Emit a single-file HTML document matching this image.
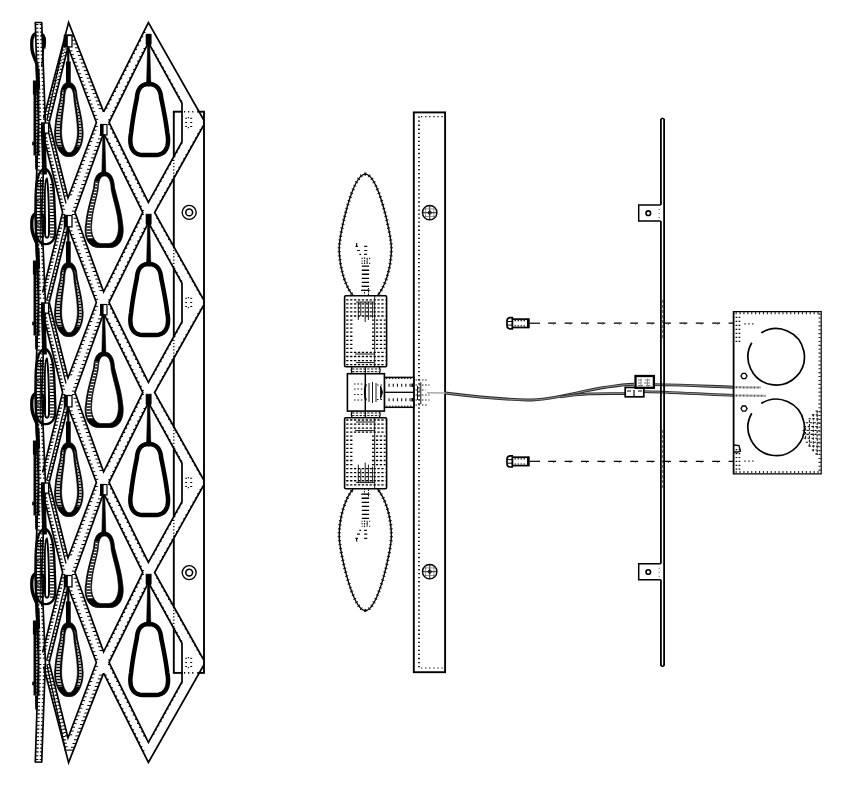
<!DOCTYPE html>
<html lang="en">
<head>
<meta charset="utf-8">
<title>Wall sconce exploded view</title>
<style>
html,body{margin:0;padding:0;background:#fff;}
body{width:853px;height:794px;overflow:hidden;font-family:"Liberation Sans",sans-serif;}
svg{display:block;}
</style>
</head>
<body>
<svg width="853" height="794" viewBox="0 0 853 794" stroke-linecap="butt" stroke-linejoin="miter">
<rect x="0" y="0" width="853" height="794" fill="#fff"/>
<g id="shade">
<line x1="204" y1="111.7" x2="204" y2="672.9" stroke="#000" stroke-width="1.9" />
<line x1="172.9" y1="111.7" x2="182.6" y2="111.7" stroke="#000" stroke-width="1.9" />
<line x1="197.2" y1="111.7" x2="204.9" y2="111.7" stroke="#000" stroke-width="1.9" />
<line x1="184" y1="111.7" x2="194" y2="111.7" stroke="#000" stroke-width="1.6" stroke-dasharray="1.2 2.9"/>
<line x1="172.9" y1="672.9" x2="182.6" y2="672.9" stroke="#000" stroke-width="1.9" />
<line x1="197.2" y1="672.9" x2="204.9" y2="672.9" stroke="#000" stroke-width="1.9" />
<line x1="184" y1="672.9" x2="194" y2="672.9" stroke="#000" stroke-width="1.6" stroke-dasharray="1.2 2.9"/>
<line x1="173.8" y1="111.7" x2="173.8" y2="156.5" stroke="#000" stroke-width="1.9" />
<line x1="173.8" y1="178.3" x2="173.8" y2="246.7" stroke="#000" stroke-width="1.9" />
<line x1="173.8" y1="268.5" x2="173.8" y2="336.5" stroke="#000" stroke-width="1.9" />
<line x1="173.8" y1="358.3" x2="173.8" y2="426.7" stroke="#000" stroke-width="1.9" />
<line x1="173.8" y1="448.5" x2="173.8" y2="516.5" stroke="#000" stroke-width="1.9" />
<line x1="173.8" y1="538.3" x2="173.8" y2="606.7" stroke="#000" stroke-width="1.9" />
<line x1="173.8" y1="628.5" x2="173.8" y2="672.9" stroke="#000" stroke-width="1.9" />
<line x1="173.8" y1="156.5" x2="173.8" y2="178.3" stroke="#000" stroke-width="1.3" stroke-dasharray="1.2 2"/>
<line x1="173.8" y1="246.7" x2="173.8" y2="268.5" stroke="#000" stroke-width="1.3" stroke-dasharray="1.2 2"/>
<line x1="173.8" y1="336.5" x2="173.8" y2="358.3" stroke="#000" stroke-width="1.3" stroke-dasharray="1.2 2"/>
<line x1="173.8" y1="426.7" x2="173.8" y2="448.5" stroke="#000" stroke-width="1.3" stroke-dasharray="1.2 2"/>
<line x1="173.8" y1="516.5" x2="173.8" y2="538.3" stroke="#000" stroke-width="1.3" stroke-dasharray="1.2 2"/>
<line x1="173.8" y1="606.7" x2="173.8" y2="628.5" stroke="#000" stroke-width="1.3" stroke-dasharray="1.2 2"/>
<circle cx="189.2" cy="212.4" r="7" fill="none" stroke="#000" stroke-width="1.4" />
<circle cx="189.2" cy="212.4" r="3.4" fill="none" stroke="#000" stroke-width="1.6" />
<circle cx="189.2" cy="572.6" r="7" fill="none" stroke="#000" stroke-width="1.4" />
<circle cx="189.2" cy="572.6" r="3.4" fill="none" stroke="#000" stroke-width="1.6" />
<path d="M185.2,118.3h1.8M190.2,118.3h2M185.2,122.5h1.8M190.2,122.5h2M185.2,126.5h1.8M190.2,126.5h2M188.4,117.1v1.2M188.4,127.1v1.2" fill="none" stroke="#000" stroke-width="1.1" />
<path d="M185.2,298.3h1.8M190.2,298.3h2M185.2,302.5h1.8M190.2,302.5h2M185.2,306.5h1.8M190.2,306.5h2M188.4,297.1v1.2M188.4,307.1v1.2" fill="none" stroke="#000" stroke-width="1.1" />
<path d="M185.2,478.3h1.8M190.2,478.3h2M185.2,482.5h1.8M190.2,482.5h2M185.2,486.5h1.8M190.2,486.5h2M188.4,477.1v1.2M188.4,487.1v1.2" fill="none" stroke="#000" stroke-width="1.1" />
<path d="M185.2,658.3h1.8M190.2,658.3h2M185.2,662.5h1.8M190.2,662.5h2M185.2,666.5h1.8M190.2,666.5h2M188.4,657.1v1.2M188.4,667.1v1.2" fill="none" stroke="#000" stroke-width="1.1" />
<polyline points="103.6,111.9 148.4,22.5 203.5,119.5" fill="none" stroke="#000" stroke-width="1.7" />
<path d="M143.39,32.5h2M141.28,36.7h2M139.18,40.9h2M137.07,45.1h2M134.97,49.3h2M132.87,53.5h2M130.76,57.7h2M128.66,61.9h2M126.55,66.1h2M124.45,70.3h2M122.34,74.5h2M120.24,78.7h2M118.13,82.9h2M116.03,87.1h2M113.92,91.3h2M111.82,95.5h2M109.71,99.7h2M107.61,103.9h2M105.5,108.1h2" fill="none" stroke="#000" stroke-width="1.15" />
<polyline points="103.6,673.1 148.4,762.5 203.5,665.5" fill="none" stroke="#000" stroke-width="1.7" />
<path d="M104.6,675.1h2M106.71,679.3h2M108.81,683.5h2M110.92,687.7h2M113.02,691.9h2M115.13,696.1h2M117.23,700.3h2M119.34,704.5h2M121.44,708.7h2M123.54,712.9h2M125.65,717.1h2M127.75,721.3h2M129.86,725.5h2M131.96,729.7h2M134.07,733.9h2M136.17,738.1h2M138.28,742.3h2M140.38,746.5h2M142.49,750.7h2" fill="none" stroke="#000" stroke-width="1.15" />
<polygon points="148.4,42.5 182,103.3 182,141.7 148.4,202.5 109,122.5" fill="none" stroke="#000" stroke-width="1.7" />
<path d="M145.44,48.5h-2M143.38,52.7h-2M141.31,56.9h-2M139.24,61.1h-2M137.17,65.3h-2M135.1,69.5h-2M133.03,73.7h-2M130.97,77.9h-2M128.9,82.1h-2M126.83,86.3h-2M124.76,90.5h-2M122.69,94.7h-2M120.62,98.9h-2M118.55,103.1h-2M116.49,107.3h-2M114.42,111.5h-2M112.35,115.7h-2M110.28,119.9h-2" fill="none" stroke="#000" stroke-width="1.15" />
<path d="M152.82,50.5h1.6M155.14,54.7h1.6M157.46,58.9h1.6M159.78,63.1h1.6M162.11,67.3h1.6M164.43,71.5h1.6M166.75,75.7h1.6M169.07,79.9h1.6M171.39,84.1h1.6M173.71,88.3h1.6M176.03,92.5h1.6M178.35,96.7h1.6M180.67,100.9h1.6" fill="none" stroke="#000" stroke-width="1.0" />
<path d="M109.98,124.5h-2M112.05,128.7h-2M114.12,132.9h-2M116.19,137.1h-2M118.26,141.3h-2M120.33,145.5h-2M122.4,149.7h-2M124.46,153.9h-2M126.53,158.1h-2M128.6,162.3h-2M130.67,166.5h-2M132.74,170.7h-2M134.81,174.9h-2M136.88,179.1h-2M138.94,183.3h-2M141.01,187.5h-2M143.08,191.7h-2M145.15,195.9h-2" fill="none" stroke="#000" stroke-width="1.15" />
<path d="M180.89,143.7h1.6M178.57,147.9h1.6M176.25,152.1h1.6M173.93,156.3h1.6M171.61,160.5h1.6M169.29,164.7h1.6M166.97,168.9h1.6M164.65,173.1h1.6M162.33,177.3h1.6M160.01,181.5h1.6M157.68,185.7h1.6M155.36,189.9h1.6M153.04,194.1h1.6" fill="none" stroke="#000" stroke-width="1.0" />
<polygon points="148.4,222.5 182,283.3 182,321.7 148.4,382.5 109,302.5" fill="none" stroke="#000" stroke-width="1.7" />
<path d="M145.44,228.5h-2M143.38,232.7h-2M141.31,236.9h-2M139.24,241.1h-2M137.17,245.3h-2M135.1,249.5h-2M133.03,253.7h-2M130.97,257.9h-2M128.9,262.1h-2M126.83,266.3h-2M124.76,270.5h-2M122.69,274.7h-2M120.62,278.9h-2M118.55,283.1h-2M116.49,287.3h-2M114.42,291.5h-2M112.35,295.7h-2M110.28,299.9h-2" fill="none" stroke="#000" stroke-width="1.15" />
<path d="M152.82,230.5h1.6M155.14,234.7h1.6M157.46,238.9h1.6M159.78,243.1h1.6M162.11,247.3h1.6M164.43,251.5h1.6M166.75,255.7h1.6M169.07,259.9h1.6M171.39,264.1h1.6M173.71,268.3h1.6M176.03,272.5h1.6M178.35,276.7h1.6M180.67,280.9h1.6" fill="none" stroke="#000" stroke-width="1.0" />
<path d="M109.98,304.5h-2M112.05,308.7h-2M114.12,312.9h-2M116.19,317.1h-2M118.26,321.3h-2M120.33,325.5h-2M122.4,329.7h-2M124.46,333.9h-2M126.53,338.1h-2M128.6,342.3h-2M130.67,346.5h-2M132.74,350.7h-2M134.81,354.9h-2M136.88,359.1h-2M138.94,363.3h-2M141.01,367.5h-2M143.08,371.7h-2M145.15,375.9h-2" fill="none" stroke="#000" stroke-width="1.15" />
<path d="M180.89,323.7h1.6M178.57,327.9h1.6M176.25,332.1h1.6M173.93,336.3h1.6M171.61,340.5h1.6M169.29,344.7h1.6M166.97,348.9h1.6M164.65,353.1h1.6M162.33,357.3h1.6M160.01,361.5h1.6M157.68,365.7h1.6M155.36,369.9h1.6M153.04,374.1h1.6" fill="none" stroke="#000" stroke-width="1.0" />
<polygon points="148.4,402.5 182,463.3 182,501.7 148.4,562.5 109,482.5" fill="none" stroke="#000" stroke-width="1.7" />
<path d="M145.44,408.5h-2M143.38,412.7h-2M141.31,416.9h-2M139.24,421.1h-2M137.17,425.3h-2M135.1,429.5h-2M133.03,433.7h-2M130.97,437.9h-2M128.9,442.1h-2M126.83,446.3h-2M124.76,450.5h-2M122.69,454.7h-2M120.62,458.9h-2M118.55,463.1h-2M116.49,467.3h-2M114.42,471.5h-2M112.35,475.7h-2M110.28,479.9h-2" fill="none" stroke="#000" stroke-width="1.15" />
<path d="M152.82,410.5h1.6M155.14,414.7h1.6M157.46,418.9h1.6M159.78,423.1h1.6M162.11,427.3h1.6M164.43,431.5h1.6M166.75,435.7h1.6M169.07,439.9h1.6M171.39,444.1h1.6M173.71,448.3h1.6M176.03,452.5h1.6M178.35,456.7h1.6M180.67,460.9h1.6" fill="none" stroke="#000" stroke-width="1.0" />
<path d="M109.98,484.5h-2M112.05,488.7h-2M114.12,492.9h-2M116.19,497.1h-2M118.26,501.3h-2M120.33,505.5h-2M122.4,509.7h-2M124.46,513.9h-2M126.53,518.1h-2M128.6,522.3h-2M130.67,526.5h-2M132.74,530.7h-2M134.81,534.9h-2M136.88,539.1h-2M138.94,543.3h-2M141.01,547.5h-2M143.08,551.7h-2M145.15,555.9h-2" fill="none" stroke="#000" stroke-width="1.15" />
<path d="M180.89,503.7h1.6M178.57,507.9h1.6M176.25,512.1h1.6M173.93,516.3h1.6M171.61,520.5h1.6M169.29,524.7h1.6M166.97,528.9h1.6M164.65,533.1h1.6M162.33,537.3h1.6M160.01,541.5h1.6M157.68,545.7h1.6M155.36,549.9h1.6M153.04,554.1h1.6" fill="none" stroke="#000" stroke-width="1.0" />
<polygon points="148.4,582.5 182,643.3 182,681.7 148.4,742.5 109,662.5" fill="none" stroke="#000" stroke-width="1.7" />
<path d="M145.44,588.5h-2M143.38,592.7h-2M141.31,596.9h-2M139.24,601.1h-2M137.17,605.3h-2M135.1,609.5h-2M133.03,613.7h-2M130.97,617.9h-2M128.9,622.1h-2M126.83,626.3h-2M124.76,630.5h-2M122.69,634.7h-2M120.62,638.9h-2M118.55,643.1h-2M116.49,647.3h-2M114.42,651.5h-2M112.35,655.7h-2M110.28,659.9h-2" fill="none" stroke="#000" stroke-width="1.15" />
<path d="M152.82,590.5h1.6M155.14,594.7h1.6M157.46,598.9h1.6M159.78,603.1h1.6M162.11,607.3h1.6M164.43,611.5h1.6M166.75,615.7h1.6M169.07,619.9h1.6M171.39,624.1h1.6M173.71,628.3h1.6M176.03,632.5h1.6M178.35,636.7h1.6M180.67,640.9h1.6" fill="none" stroke="#000" stroke-width="1.0" />
<path d="M109.98,664.5h-2M112.05,668.7h-2M114.12,672.9h-2M116.19,677.1h-2M118.26,681.3h-2M120.33,685.5h-2M122.4,689.7h-2M124.46,693.9h-2M126.53,698.1h-2M128.6,702.3h-2M130.67,706.5h-2M132.74,710.7h-2M134.81,714.9h-2M136.88,719.1h-2M138.94,723.3h-2M141.01,727.5h-2M143.08,731.7h-2M145.15,735.9h-2" fill="none" stroke="#000" stroke-width="1.15" />
<path d="M180.89,683.7h1.6M178.57,687.9h1.6M176.25,692.1h1.6M173.93,696.3h1.6M171.61,700.5h1.6M169.29,704.7h1.6M166.97,708.9h1.6M164.65,713.1h1.6M162.33,717.3h1.6M160.01,721.5h1.6M157.68,725.7h1.6M155.36,729.9h1.6M153.04,734.1h1.6" fill="none" stroke="#000" stroke-width="1.0" />
<polyline points="203.5,125.5 154.6,212.5 203.5,299.5" fill="none" stroke="#000" stroke-width="1.7" />
<path d="M201.25,129.5h-1.6M198.89,133.7h-1.6M196.53,137.9h-1.6M194.17,142.1h-1.6M191.81,146.3h-1.6M189.45,150.5h-1.6M187.09,154.7h-1.6M184.73,158.9h-1.6M182.37,163.1h-1.6M180.01,167.3h-1.6M177.64,171.5h-1.6M175.28,175.7h-1.6M172.92,179.9h-1.6M170.56,184.1h-1.6M168.2,188.3h-1.6M165.84,192.5h-1.6M163.48,196.7h-1.6M161.12,200.9h-1.6M158.76,205.1h-1.6" fill="none" stroke="#000" stroke-width="1.0" />
<path d="M157.97,218.5h-1.6M160.33,222.7h-1.6M162.69,226.9h-1.6M165.05,231.1h-1.6M167.42,235.3h-1.6M169.78,239.5h-1.6M172.14,243.7h-1.6M174.5,247.9h-1.6M176.86,252.1h-1.6M179.22,256.3h-1.6M181.58,260.5h-1.6M183.94,264.7h-1.6M186.3,268.9h-1.6M188.66,273.1h-1.6M191.02,277.3h-1.6M193.38,281.5h-1.6M195.74,285.7h-1.6M198.1,289.9h-1.6M200.46,294.1h-1.6" fill="none" stroke="#000" stroke-width="1.0" />
<polyline points="203.5,305.5 154.6,392.5 203.5,479.5" fill="none" stroke="#000" stroke-width="1.7" />
<path d="M201.25,309.5h-1.6M198.89,313.7h-1.6M196.53,317.9h-1.6M194.17,322.1h-1.6M191.81,326.3h-1.6M189.45,330.5h-1.6M187.09,334.7h-1.6M184.73,338.9h-1.6M182.37,343.1h-1.6M180.01,347.3h-1.6M177.64,351.5h-1.6M175.28,355.7h-1.6M172.92,359.9h-1.6M170.56,364.1h-1.6M168.2,368.3h-1.6M165.84,372.5h-1.6M163.48,376.7h-1.6M161.12,380.9h-1.6M158.76,385.1h-1.6" fill="none" stroke="#000" stroke-width="1.0" />
<path d="M157.97,398.5h-1.6M160.33,402.7h-1.6M162.69,406.9h-1.6M165.05,411.1h-1.6M167.42,415.3h-1.6M169.78,419.5h-1.6M172.14,423.7h-1.6M174.5,427.9h-1.6M176.86,432.1h-1.6M179.22,436.3h-1.6M181.58,440.5h-1.6M183.94,444.7h-1.6M186.3,448.9h-1.6M188.66,453.1h-1.6M191.02,457.3h-1.6M193.38,461.5h-1.6M195.74,465.7h-1.6M198.1,469.9h-1.6M200.46,474.1h-1.6" fill="none" stroke="#000" stroke-width="1.0" />
<polyline points="203.5,485.5 154.6,572.5 203.5,659.5" fill="none" stroke="#000" stroke-width="1.7" />
<path d="M201.25,489.5h-1.6M198.89,493.7h-1.6M196.53,497.9h-1.6M194.17,502.1h-1.6M191.81,506.3h-1.6M189.45,510.5h-1.6M187.09,514.7h-1.6M184.73,518.9h-1.6M182.37,523.1h-1.6M180.01,527.3h-1.6M177.64,531.5h-1.6M175.28,535.7h-1.6M172.92,539.9h-1.6M170.56,544.1h-1.6M168.2,548.3h-1.6M165.84,552.5h-1.6M163.48,556.7h-1.6M161.12,560.9h-1.6M158.76,565.1h-1.6" fill="none" stroke="#000" stroke-width="1.0" />
<path d="M157.97,578.5h-1.6M160.33,582.7h-1.6M162.69,586.9h-1.6M165.05,591.1h-1.6M167.42,595.3h-1.6M169.78,599.5h-1.6M172.14,603.7h-1.6M174.5,607.9h-1.6M176.86,612.1h-1.6M179.22,616.3h-1.6M181.58,620.5h-1.6M183.94,624.7h-1.6M186.3,628.9h-1.6M188.66,633.1h-1.6M191.02,637.3h-1.6M193.38,641.5h-1.6M195.74,645.7h-1.6M198.1,649.9h-1.6M200.46,654.1h-1.6" fill="none" stroke="#000" stroke-width="1.0" />
<polygon points="103.6,133.1 142.8,212.5 103.6,291.9 75,212.5" fill="none" stroke="#000" stroke-width="1.7" />
<path d="M106.56,139.1h2M108.64,143.3h2M110.71,147.5h2M112.78,151.7h2M114.86,155.9h2M116.93,160.1h2M119,164.3h2M121.08,168.5h2M123.15,172.7h2M125.22,176.9h2M127.3,181.1h2M129.37,185.3h2M131.44,189.5h2M133.52,193.7h2M135.59,197.9h2M137.67,202.1h2M139.74,206.3h2M141.81,210.5h2" fill="none" stroke="#000" stroke-width="1.15" />
<path d="M141.81,214.5h2M139.74,218.7h2M137.67,222.9h2M135.59,227.1h2M133.52,231.3h2M131.44,235.5h2M129.37,239.7h2M127.3,243.9h2M125.22,248.1h2M123.15,252.3h2M121.08,256.5h2M119,260.7h2M116.93,264.9h2M114.86,269.1h2M112.78,273.3h2M110.71,277.5h2M108.64,281.7h2M106.56,285.9h2" fill="none" stroke="#000" stroke-width="1.15" />
<path d="M102.88,135.1h-3.6M101.51,138.9h-3.6M100.14,142.7h-3.6M98.77,146.5h-3.6M97.4,150.3h-3.6M96.04,154.1h-3.6M94.67,157.9h-3.6M93.3,161.7h-3.6M91.93,165.5h-3.6M90.56,169.3h-3.6M89.19,173.1h-3.6M87.82,176.9h-3.6M86.45,180.7h-3.6M85.09,184.5h-3.6M83.72,188.3h-3.6M82.35,192.1h-3.6M80.98,195.9h-3.6M79.61,199.7h-3.6M78.24,203.5h-3.6M76.87,207.3h-3.6M75.5,211.1h-3.6" fill="none" stroke="#000" stroke-width="1.0" />
<path d="M75.72,214.5h-3.6M77.09,218.3h-3.6M78.46,222.1h-3.6M79.83,225.9h-3.6M81.2,229.7h-3.6M82.56,233.5h-3.6M83.93,237.3h-3.6M85.3,241.1h-3.6M86.67,244.9h-3.6M88.04,248.7h-3.6M89.41,252.5h-3.6M90.78,256.3h-3.6M92.15,260.1h-3.6M93.51,263.9h-3.6M94.88,267.7h-3.6M96.25,271.5h-3.6M97.62,275.3h-3.6M98.99,279.1h-3.6M100.36,282.9h-3.6M101.73,286.7h-3.6M103.1,290.5h-3.6" fill="none" stroke="#000" stroke-width="1.0" />
<polygon points="103.6,313.1 142.8,392.5 103.6,471.9 75,392.5" fill="none" stroke="#000" stroke-width="1.7" />
<path d="M106.56,319.1h2M108.64,323.3h2M110.71,327.5h2M112.78,331.7h2M114.86,335.9h2M116.93,340.1h2M119,344.3h2M121.08,348.5h2M123.15,352.7h2M125.22,356.9h2M127.3,361.1h2M129.37,365.3h2M131.44,369.5h2M133.52,373.7h2M135.59,377.9h2M137.67,382.1h2M139.74,386.3h2M141.81,390.5h2" fill="none" stroke="#000" stroke-width="1.15" />
<path d="M141.81,394.5h2M139.74,398.7h2M137.67,402.9h2M135.59,407.1h2M133.52,411.3h2M131.44,415.5h2M129.37,419.7h2M127.3,423.9h2M125.22,428.1h2M123.15,432.3h2M121.08,436.5h2M119,440.7h2M116.93,444.9h2M114.86,449.1h2M112.78,453.3h2M110.71,457.5h2M108.64,461.7h2M106.56,465.9h2" fill="none" stroke="#000" stroke-width="1.15" />
<path d="M102.88,315.1h-3.6M101.51,318.9h-3.6M100.14,322.7h-3.6M98.77,326.5h-3.6M97.4,330.3h-3.6M96.04,334.1h-3.6M94.67,337.9h-3.6M93.3,341.7h-3.6M91.93,345.5h-3.6M90.56,349.3h-3.6M89.19,353.1h-3.6M87.82,356.9h-3.6M86.45,360.7h-3.6M85.09,364.5h-3.6M83.72,368.3h-3.6M82.35,372.1h-3.6M80.98,375.9h-3.6M79.61,379.7h-3.6M78.24,383.5h-3.6M76.87,387.3h-3.6M75.5,391.1h-3.6" fill="none" stroke="#000" stroke-width="1.0" />
<path d="M75.72,394.5h-3.6M77.09,398.3h-3.6M78.46,402.1h-3.6M79.83,405.9h-3.6M81.2,409.7h-3.6M82.56,413.5h-3.6M83.93,417.3h-3.6M85.3,421.1h-3.6M86.67,424.9h-3.6M88.04,428.7h-3.6M89.41,432.5h-3.6M90.78,436.3h-3.6M92.15,440.1h-3.6M93.51,443.9h-3.6M94.88,447.7h-3.6M96.25,451.5h-3.6M97.62,455.3h-3.6M98.99,459.1h-3.6M100.36,462.9h-3.6M101.73,466.7h-3.6M103.1,470.5h-3.6" fill="none" stroke="#000" stroke-width="1.0" />
<polygon points="103.6,493.1 142.8,572.5 103.6,651.9 75,572.5" fill="none" stroke="#000" stroke-width="1.7" />
<path d="M106.56,499.1h2M108.64,503.3h2M110.71,507.5h2M112.78,511.7h2M114.86,515.9h2M116.93,520.1h2M119,524.3h2M121.08,528.5h2M123.15,532.7h2M125.22,536.9h2M127.3,541.1h2M129.37,545.3h2M131.44,549.5h2M133.52,553.7h2M135.59,557.9h2M137.67,562.1h2M139.74,566.3h2M141.81,570.5h2" fill="none" stroke="#000" stroke-width="1.15" />
<path d="M141.81,574.5h2M139.74,578.7h2M137.67,582.9h2M135.59,587.1h2M133.52,591.3h2M131.44,595.5h2M129.37,599.7h2M127.3,603.9h2M125.22,608.1h2M123.15,612.3h2M121.08,616.5h2M119,620.7h2M116.93,624.9h2M114.86,629.1h2M112.78,633.3h2M110.71,637.5h2M108.64,641.7h2M106.56,645.9h2" fill="none" stroke="#000" stroke-width="1.15" />
<path d="M102.88,495.1h-3.6M101.51,498.9h-3.6M100.14,502.7h-3.6M98.77,506.5h-3.6M97.4,510.3h-3.6M96.04,514.1h-3.6M94.67,517.9h-3.6M93.3,521.7h-3.6M91.93,525.5h-3.6M90.56,529.3h-3.6M89.19,533.1h-3.6M87.82,536.9h-3.6M86.45,540.7h-3.6M85.09,544.5h-3.6M83.72,548.3h-3.6M82.35,552.1h-3.6M80.98,555.9h-3.6M79.61,559.7h-3.6M78.24,563.5h-3.6M76.87,567.3h-3.6M75.5,571.1h-3.6" fill="none" stroke="#000" stroke-width="1.0" />
<path d="M75.72,574.5h-3.6M77.09,578.3h-3.6M78.46,582.1h-3.6M79.83,585.9h-3.6M81.2,589.7h-3.6M82.56,593.5h-3.6M83.93,597.3h-3.6M85.3,601.1h-3.6M86.67,604.9h-3.6M88.04,608.7h-3.6M89.41,612.5h-3.6M90.78,616.3h-3.6M92.15,620.1h-3.6M93.51,623.9h-3.6M94.88,627.7h-3.6M96.25,631.5h-3.6M97.62,635.3h-3.6M98.99,639.1h-3.6M100.36,642.9h-3.6M101.73,646.7h-3.6M103.1,650.5h-3.6" fill="none" stroke="#000" stroke-width="1.0" />
<polyline points="103.6,111.9 68.6,22.4 43.6,118.5" fill="none" stroke="#000" stroke-width="1.7" />
<path d="M64.96,36.4h3.2M64.07,39.8h3.2M63.19,43.2h3.2M62.3,46.6h3.2M61.42,50h3.2M60.54,53.4h3.2M59.65,56.8h3.2M58.77,60.2h3.2M57.88,63.6h3.2M57,67h3.2M56.11,70.4h3.2M55.23,73.8h3.2M54.34,77.2h3.2M53.46,80.6h3.2M52.58,84h3.2M51.69,87.4h3.2M50.81,90.8h3.2M49.92,94.2h3.2M49.04,97.6h3.2M48.15,101h3.2M47.27,104.4h3.2M46.38,107.8h3.2M45.5,111.2h3.2M44.61,114.6h3.2" fill="none" stroke="#000" stroke-width="1.1" />
<path d="M74.07,36.4h-3.6M75.56,40.2h-3.6M77.05,44h-3.6M78.53,47.8h-3.6M80.02,51.6h-3.6M81.51,55.4h-3.6M82.99,59.2h-3.6M84.48,63h-3.6M85.96,66.8h-3.6M87.45,70.6h-3.6M88.94,74.4h-3.6M90.42,78.2h-3.6M91.91,82h-3.6M93.39,85.8h-3.6M94.88,89.6h-3.6M96.37,93.4h-3.6M97.85,97.2h-3.6M99.34,101h-3.6M100.82,104.8h-3.6M102.31,108.6h-3.6" fill="none" stroke="#000" stroke-width="1.0" />
<line x1="65.2" y1="36.4" x2="46.8" y2="120.5" stroke="#000" stroke-width="1.3" />
<line x1="64.4" y1="34.9" x2="73.2" y2="34.9" stroke="#000" stroke-width="1.1" />
<polyline points="103.6,673.1 68.6,762.6 43.6,666.5" fill="none" stroke="#000" stroke-width="1.7" />
<path d="M44.12,668.5h3.2M45,671.9h3.2M45.89,675.3h3.2M46.77,678.7h3.2M47.66,682.1h3.2M48.54,685.5h3.2M49.43,688.9h3.2M50.31,692.3h3.2M51.2,695.7h3.2M52.08,699.1h3.2M52.97,702.5h3.2M53.85,705.9h3.2M54.73,709.3h3.2M55.62,712.7h3.2M56.5,716.1h3.2M57.39,719.5h3.2M58.27,722.9h3.2M59.16,726.3h3.2M60.04,729.7h3.2M60.93,733.1h3.2M61.81,736.5h3.2M62.69,739.9h3.2M63.58,743.3h3.2M64.46,746.7h3.2" fill="none" stroke="#000" stroke-width="1.1" />
<path d="M102.82,675.1h-3.6M101.33,678.9h-3.6M99.85,682.7h-3.6M98.36,686.5h-3.6M96.87,690.3h-3.6M95.39,694.1h-3.6M93.9,697.9h-3.6M92.42,701.7h-3.6M90.93,705.5h-3.6M89.44,709.3h-3.6M87.96,713.1h-3.6M86.47,716.9h-3.6M84.99,720.7h-3.6M83.5,724.5h-3.6M82.01,728.3h-3.6M80.53,732.1h-3.6M79.04,735.9h-3.6M77.56,739.7h-3.6M76.07,743.5h-3.6M74.58,747.3h-3.6" fill="none" stroke="#000" stroke-width="1.0" />
<line x1="65.2" y1="748.6" x2="46.8" y2="664.5" stroke="#000" stroke-width="1.3" />
<line x1="64.4" y1="750.1" x2="73.2" y2="750.1" stroke="#000" stroke-width="1.1" />
<polygon points="68,47 96.4,122.5 68,198 49.2,122.5" fill="none" stroke="#000" stroke-width="1.7" />
<path d="M69.47,50.9h3M70.9,54.7h3M72.33,58.5h3M73.76,62.3h3M75.18,66.1h3M76.61,69.9h3M78.04,73.7h3M79.47,77.5h3M80.9,81.3h3M82.33,85.1h3M83.76,88.9h3M85.19,92.7h3M86.62,96.5h3M88.05,100.3h3M89.48,104.1h3M90.91,107.9h3M92.34,111.7h3M93.77,115.5h3M95.2,119.3h3" fill="none" stroke="#000" stroke-width="1.0" />
<path d="M94.93,126.4h3M93.5,130.2h3M92.07,134h3M90.64,137.8h3M89.22,141.6h3M87.79,145.4h3M86.36,149.2h3M84.93,153h3M83.5,156.8h3M82.07,160.6h3M80.64,164.4h3M79.21,168.2h3M77.78,172h3M76.35,175.8h3M74.92,179.6h3M73.49,183.4h3M72.06,187.2h3M70.63,191h3M69.2,194.8h3" fill="none" stroke="#000" stroke-width="1.0" />
<path d="M67.5,49h-2.6M66.66,52.4h-2.6M65.81,55.8h-2.6M64.96,59.2h-2.6M64.12,62.6h-2.6M63.27,66h-2.6M62.42,69.4h-2.6M61.58,72.8h-2.6M60.73,76.2h-2.6M59.88,79.6h-2.6M59.04,83h-2.6M58.19,86.4h-2.6M57.34,89.8h-2.6M56.5,93.2h-2.6M55.65,96.6h-2.6M54.8,100h-2.6M53.96,103.4h-2.6M53.11,106.8h-2.6M52.26,110.2h-2.6M51.42,113.6h-2.6M50.57,117h-2.6M49.72,120.4h-2.6" fill="none" stroke="#000" stroke-width="1.1" />
<path d="M49.7,124.5h-2.6M50.54,127.9h-2.6M51.39,131.3h-2.6M52.24,134.7h-2.6M53.08,138.1h-2.6M53.93,141.5h-2.6M54.78,144.9h-2.6M55.62,148.3h-2.6M56.47,151.7h-2.6M57.32,155.1h-2.6M58.16,158.5h-2.6M59.01,161.9h-2.6M59.86,165.3h-2.6M60.7,168.7h-2.6M61.55,172.1h-2.6M62.4,175.5h-2.6M63.24,178.9h-2.6M64.09,182.3h-2.6M64.94,185.7h-2.6M65.78,189.1h-2.6M66.63,192.5h-2.6M67.48,195.9h-2.6" fill="none" stroke="#000" stroke-width="1.1" />
<polygon points="68,227 96.4,302.5 68,378 49.2,302.5" fill="none" stroke="#000" stroke-width="1.7" />
<path d="M69.47,230.9h3M70.9,234.7h3M72.33,238.5h3M73.76,242.3h3M75.18,246.1h3M76.61,249.9h3M78.04,253.7h3M79.47,257.5h3M80.9,261.3h3M82.33,265.1h3M83.76,268.9h3M85.19,272.7h3M86.62,276.5h3M88.05,280.3h3M89.48,284.1h3M90.91,287.9h3M92.34,291.7h3M93.77,295.5h3M95.2,299.3h3" fill="none" stroke="#000" stroke-width="1.0" />
<path d="M94.93,306.4h3M93.5,310.2h3M92.07,314h3M90.64,317.8h3M89.22,321.6h3M87.79,325.4h3M86.36,329.2h3M84.93,333h3M83.5,336.8h3M82.07,340.6h3M80.64,344.4h3M79.21,348.2h3M77.78,352h3M76.35,355.8h3M74.92,359.6h3M73.49,363.4h3M72.06,367.2h3M70.63,371h3M69.2,374.8h3" fill="none" stroke="#000" stroke-width="1.0" />
<path d="M67.5,229h-2.6M66.66,232.4h-2.6M65.81,235.8h-2.6M64.96,239.2h-2.6M64.12,242.6h-2.6M63.27,246h-2.6M62.42,249.4h-2.6M61.58,252.8h-2.6M60.73,256.2h-2.6M59.88,259.6h-2.6M59.04,263h-2.6M58.19,266.4h-2.6M57.34,269.8h-2.6M56.5,273.2h-2.6M55.65,276.6h-2.6M54.8,280h-2.6M53.96,283.4h-2.6M53.11,286.8h-2.6M52.26,290.2h-2.6M51.42,293.6h-2.6M50.57,297h-2.6M49.72,300.4h-2.6" fill="none" stroke="#000" stroke-width="1.1" />
<path d="M49.7,304.5h-2.6M50.54,307.9h-2.6M51.39,311.3h-2.6M52.24,314.7h-2.6M53.08,318.1h-2.6M53.93,321.5h-2.6M54.78,324.9h-2.6M55.62,328.3h-2.6M56.47,331.7h-2.6M57.32,335.1h-2.6M58.16,338.5h-2.6M59.01,341.9h-2.6M59.86,345.3h-2.6M60.7,348.7h-2.6M61.55,352.1h-2.6M62.4,355.5h-2.6M63.24,358.9h-2.6M64.09,362.3h-2.6M64.94,365.7h-2.6M65.78,369.1h-2.6M66.63,372.5h-2.6M67.48,375.9h-2.6" fill="none" stroke="#000" stroke-width="1.1" />
<polygon points="68,407 96.4,482.5 68,558 49.2,482.5" fill="none" stroke="#000" stroke-width="1.7" />
<path d="M69.47,410.9h3M70.9,414.7h3M72.33,418.5h3M73.76,422.3h3M75.18,426.1h3M76.61,429.9h3M78.04,433.7h3M79.47,437.5h3M80.9,441.3h3M82.33,445.1h3M83.76,448.9h3M85.19,452.7h3M86.62,456.5h3M88.05,460.3h3M89.48,464.1h3M90.91,467.9h3M92.34,471.7h3M93.77,475.5h3M95.2,479.3h3" fill="none" stroke="#000" stroke-width="1.0" />
<path d="M94.93,486.4h3M93.5,490.2h3M92.07,494h3M90.64,497.8h3M89.22,501.6h3M87.79,505.4h3M86.36,509.2h3M84.93,513h3M83.5,516.8h3M82.07,520.6h3M80.64,524.4h3M79.21,528.2h3M77.78,532h3M76.35,535.8h3M74.92,539.6h3M73.49,543.4h3M72.06,547.2h3M70.63,551h3M69.2,554.8h3" fill="none" stroke="#000" stroke-width="1.0" />
<path d="M67.5,409h-2.6M66.66,412.4h-2.6M65.81,415.8h-2.6M64.96,419.2h-2.6M64.12,422.6h-2.6M63.27,426h-2.6M62.42,429.4h-2.6M61.58,432.8h-2.6M60.73,436.2h-2.6M59.88,439.6h-2.6M59.04,443h-2.6M58.19,446.4h-2.6M57.34,449.8h-2.6M56.5,453.2h-2.6M55.65,456.6h-2.6M54.8,460h-2.6M53.96,463.4h-2.6M53.11,466.8h-2.6M52.26,470.2h-2.6M51.42,473.6h-2.6M50.57,477h-2.6M49.72,480.4h-2.6" fill="none" stroke="#000" stroke-width="1.1" />
<path d="M49.7,484.5h-2.6M50.54,487.9h-2.6M51.39,491.3h-2.6M52.24,494.7h-2.6M53.08,498.1h-2.6M53.93,501.5h-2.6M54.78,504.9h-2.6M55.62,508.3h-2.6M56.47,511.7h-2.6M57.32,515.1h-2.6M58.16,518.5h-2.6M59.01,521.9h-2.6M59.86,525.3h-2.6M60.7,528.7h-2.6M61.55,532.1h-2.6M62.4,535.5h-2.6M63.24,538.9h-2.6M64.09,542.3h-2.6M64.94,545.7h-2.6M65.78,549.1h-2.6M66.63,552.5h-2.6M67.48,555.9h-2.6" fill="none" stroke="#000" stroke-width="1.1" />
<polygon points="68,587 96.4,662.5 68,738 49.2,662.5" fill="none" stroke="#000" stroke-width="1.7" />
<path d="M69.47,590.9h3M70.9,594.7h3M72.33,598.5h3M73.76,602.3h3M75.18,606.1h3M76.61,609.9h3M78.04,613.7h3M79.47,617.5h3M80.9,621.3h3M82.33,625.1h3M83.76,628.9h3M85.19,632.7h3M86.62,636.5h3M88.05,640.3h3M89.48,644.1h3M90.91,647.9h3M92.34,651.7h3M93.77,655.5h3M95.2,659.3h3" fill="none" stroke="#000" stroke-width="1.0" />
<path d="M94.93,666.4h3M93.5,670.2h3M92.07,674h3M90.64,677.8h3M89.22,681.6h3M87.79,685.4h3M86.36,689.2h3M84.93,693h3M83.5,696.8h3M82.07,700.6h3M80.64,704.4h3M79.21,708.2h3M77.78,712h3M76.35,715.8h3M74.92,719.6h3M73.49,723.4h3M72.06,727.2h3M70.63,731h3M69.2,734.8h3" fill="none" stroke="#000" stroke-width="1.0" />
<path d="M67.5,589h-2.6M66.66,592.4h-2.6M65.81,595.8h-2.6M64.96,599.2h-2.6M64.12,602.6h-2.6M63.27,606h-2.6M62.42,609.4h-2.6M61.58,612.8h-2.6M60.73,616.2h-2.6M59.88,619.6h-2.6M59.04,623h-2.6M58.19,626.4h-2.6M57.34,629.8h-2.6M56.5,633.2h-2.6M55.65,636.6h-2.6M54.8,640h-2.6M53.96,643.4h-2.6M53.11,646.8h-2.6M52.26,650.2h-2.6M51.42,653.6h-2.6M50.57,657h-2.6M49.72,660.4h-2.6" fill="none" stroke="#000" stroke-width="1.1" />
<path d="M49.7,664.5h-2.6M50.54,667.9h-2.6M51.39,671.3h-2.6M52.24,674.7h-2.6M53.08,678.1h-2.6M53.93,681.5h-2.6M54.78,684.9h-2.6M55.62,688.3h-2.6M56.47,691.7h-2.6M57.32,695.1h-2.6M58.16,698.5h-2.6M59.01,701.9h-2.6M59.86,705.3h-2.6M60.7,708.7h-2.6M61.55,712.1h-2.6M62.4,715.5h-2.6M63.24,718.9h-2.6M64.09,722.3h-2.6M64.94,725.7h-2.6M65.78,729.1h-2.6M66.63,732.5h-2.6M67.48,735.9h-2.6" fill="none" stroke="#000" stroke-width="1.1" />
<line x1="66" y1="221.5" x2="46.6" y2="300.5" stroke="#000" stroke-width="1.3" />
<line x1="66" y1="203.5" x2="46.6" y2="124.5" stroke="#000" stroke-width="1.3" />
<line x1="66" y1="401.5" x2="46.6" y2="480.5" stroke="#000" stroke-width="1.3" />
<line x1="66" y1="383.5" x2="46.6" y2="304.5" stroke="#000" stroke-width="1.3" />
<line x1="66" y1="581.5" x2="46.6" y2="660.5" stroke="#000" stroke-width="1.3" />
<line x1="66" y1="563.5" x2="46.6" y2="484.5" stroke="#000" stroke-width="1.3" />
<polyline points="42.6,132.5 62.6,212.5 42.6,292.5" fill="none" stroke="#000" stroke-width="1.7" />
<path d="M43.1,134.5h3.2M43.95,137.9h3.2M44.8,141.3h3.2M45.65,144.7h3.2M46.5,148.1h3.2M47.35,151.5h3.2M48.2,154.9h3.2M49.05,158.3h3.2M49.9,161.7h3.2M50.75,165.1h3.2M51.6,168.5h3.2M52.45,171.9h3.2M53.3,175.3h3.2M54.15,178.7h3.2M55,182.1h3.2M55.85,185.5h3.2M56.7,188.9h3.2M57.55,192.3h3.2M58.4,195.7h3.2M59.25,199.1h3.2M60.1,202.5h3.2M60.95,205.9h3.2M61.8,209.3h3.2" fill="none" stroke="#000" stroke-width="1.1" />
<path d="M62.1,214.5h3.2M61.25,217.9h3.2M60.4,221.3h3.2M59.55,224.7h3.2M58.7,228.1h3.2M57.85,231.5h3.2M57,234.9h3.2M56.15,238.3h3.2M55.3,241.7h3.2M54.45,245.1h3.2M53.6,248.5h3.2M52.75,251.9h3.2M51.9,255.3h3.2M51.05,258.7h3.2M50.2,262.1h3.2M49.35,265.5h3.2M48.5,268.9h3.2M47.65,272.3h3.2M46.8,275.7h3.2M45.95,279.1h3.2M45.1,282.5h3.2M44.25,285.9h3.2M43.4,289.3h3.2" fill="none" stroke="#000" stroke-width="1.1" />
<polyline points="42.6,312.5 62.6,392.5 42.6,472.5" fill="none" stroke="#000" stroke-width="1.7" />
<path d="M43.1,314.5h3.2M43.95,317.9h3.2M44.8,321.3h3.2M45.65,324.7h3.2M46.5,328.1h3.2M47.35,331.5h3.2M48.2,334.9h3.2M49.05,338.3h3.2M49.9,341.7h3.2M50.75,345.1h3.2M51.6,348.5h3.2M52.45,351.9h3.2M53.3,355.3h3.2M54.15,358.7h3.2M55,362.1h3.2M55.85,365.5h3.2M56.7,368.9h3.2M57.55,372.3h3.2M58.4,375.7h3.2M59.25,379.1h3.2M60.1,382.5h3.2M60.95,385.9h3.2M61.8,389.3h3.2" fill="none" stroke="#000" stroke-width="1.1" />
<path d="M62.1,394.5h3.2M61.25,397.9h3.2M60.4,401.3h3.2M59.55,404.7h3.2M58.7,408.1h3.2M57.85,411.5h3.2M57,414.9h3.2M56.15,418.3h3.2M55.3,421.7h3.2M54.45,425.1h3.2M53.6,428.5h3.2M52.75,431.9h3.2M51.9,435.3h3.2M51.05,438.7h3.2M50.2,442.1h3.2M49.35,445.5h3.2M48.5,448.9h3.2M47.65,452.3h3.2M46.8,455.7h3.2M45.95,459.1h3.2M45.1,462.5h3.2M44.25,465.9h3.2M43.4,469.3h3.2" fill="none" stroke="#000" stroke-width="1.1" />
<polyline points="42.6,492.5 62.6,572.5 42.6,652.5" fill="none" stroke="#000" stroke-width="1.7" />
<path d="M43.1,494.5h3.2M43.95,497.9h3.2M44.8,501.3h3.2M45.65,504.7h3.2M46.5,508.1h3.2M47.35,511.5h3.2M48.2,514.9h3.2M49.05,518.3h3.2M49.9,521.7h3.2M50.75,525.1h3.2M51.6,528.5h3.2M52.45,531.9h3.2M53.3,535.3h3.2M54.15,538.7h3.2M55,542.1h3.2M55.85,545.5h3.2M56.7,548.9h3.2M57.55,552.3h3.2M58.4,555.7h3.2M59.25,559.1h3.2M60.1,562.5h3.2M60.95,565.9h3.2M61.8,569.3h3.2" fill="none" stroke="#000" stroke-width="1.1" />
<path d="M62.1,574.5h3.2M61.25,577.9h3.2M60.4,581.3h3.2M59.55,584.7h3.2M58.7,588.1h3.2M57.85,591.5h3.2M57,594.9h3.2M56.15,598.3h3.2M55.3,601.7h3.2M54.45,605.1h3.2M53.6,608.5h3.2M52.75,611.9h3.2M51.9,615.3h3.2M51.05,618.7h3.2M50.2,622.1h3.2M49.35,625.5h3.2M48.5,628.9h3.2M47.65,632.3h3.2M46.8,635.7h3.2M45.95,639.1h3.2M45.1,642.5h3.2M44.25,645.9h3.2M43.4,649.3h3.2" fill="none" stroke="#000" stroke-width="1.1" />
<polyline points="35.3,22.5 38.4,122.5 35.3,212.5 38.4,302.5 35.3,392.5 38.4,482.5 35.3,572.5 38.4,662.5 35.3,762.1" fill="none" stroke="#000" stroke-width="1.7" />
<polyline points="41.7,22.5 45.4,122.5 41.7,212.5 45.4,302.5 41.7,392.5 45.4,482.5 41.7,572.5 45.4,662.5 41.7,762.1" fill="none" stroke="#000" stroke-width="1.7" />
<line x1="34.7" y1="22.5" x2="42.3" y2="22.5" stroke="#000" stroke-width="1.5" />
<line x1="34.7" y1="762.1" x2="42.3" y2="762.1" stroke="#000" stroke-width="1.5" />
<path d="M35.96,24.5h2.4M36.08,28.3h2.4M36.2,32.1h2.4M36.32,35.9h2.4M36.43,39.7h2.4M36.55,43.5h2.4M36.67,47.3h2.4M36.79,51.1h2.4M36.9,54.9h2.4M37.02,58.7h2.4M37.14,62.5h2.4M37.26,66.3h2.4M37.38,70.1h2.4M37.49,73.9h2.4M37.61,77.7h2.4M37.73,81.5h2.4M37.85,85.3h2.4M37.96,89.1h2.4M38.08,92.9h2.4M38.2,96.7h2.4M38.32,100.5h2.4M38.44,104.3h2.4M38.55,108.1h2.4M38.67,111.9h2.4M38.79,115.7h2.4M38.91,119.5h2.4" fill="none" stroke="#000" stroke-width="1.1" />
<path d="M41.17,24.5h-1.5M41.31,28.3h-1.5M41.46,32.1h-1.5M41.6,35.9h-1.5M41.74,39.7h-1.5M41.88,43.5h-1.5M42.02,47.3h-1.5M42.16,51.1h-1.5M42.3,54.9h-1.5M42.44,58.7h-1.5M42.58,62.5h-1.5M42.72,66.3h-1.5M42.86,70.1h-1.5M43,73.9h-1.5M43.14,77.7h-1.5M43.28,81.5h-1.5M43.42,85.3h-1.5M43.56,89.1h-1.5M43.7,92.9h-1.5M43.85,96.7h-1.5M43.99,100.5h-1.5M44.13,104.3h-1.5M44.27,108.1h-1.5M44.41,111.9h-1.5M44.55,115.7h-1.5M44.69,119.5h-1.5" fill="none" stroke="#000" stroke-width="1.2" />
<path d="M38.93,124.5h2.4M38.8,128.3h2.4M38.67,132.1h2.4M38.54,135.9h2.4M38.41,139.7h2.4M38.28,143.5h2.4M38.15,147.3h2.4M38.01,151.1h2.4M37.88,154.9h2.4M37.75,158.7h2.4M37.62,162.5h2.4M37.49,166.3h2.4M37.36,170.1h2.4M37.23,173.9h2.4M37.1,177.7h2.4M36.97,181.5h2.4M36.84,185.3h2.4M36.71,189.1h2.4M36.58,192.9h2.4M36.44,196.7h2.4M36.31,200.5h2.4M36.18,204.3h2.4M36.05,208.1h2.4" fill="none" stroke="#000" stroke-width="1.1" />
<path d="M44.72,124.5h-1.5M44.56,128.3h-1.5M44.41,132.1h-1.5M44.25,135.9h-1.5M44.09,139.7h-1.5M43.94,143.5h-1.5M43.78,147.3h-1.5M43.62,151.1h-1.5M43.47,154.9h-1.5M43.31,158.7h-1.5M43.16,162.5h-1.5M43,166.3h-1.5M42.84,170.1h-1.5M42.69,173.9h-1.5M42.53,177.7h-1.5M42.37,181.5h-1.5M42.22,185.3h-1.5M42.06,189.1h-1.5M41.91,192.9h-1.5M41.75,196.7h-1.5M41.59,200.5h-1.5M41.44,204.3h-1.5M41.28,208.1h-1.5" fill="none" stroke="#000" stroke-width="1.2" />
<path d="M35.97,214.5h2.4M36.1,218.3h2.4M36.23,222.1h2.4M36.36,225.9h2.4M36.49,229.7h2.4M36.62,233.5h2.4M36.75,237.3h2.4M36.89,241.1h2.4M37.02,244.9h2.4M37.15,248.7h2.4M37.28,252.5h2.4M37.41,256.3h2.4M37.54,260.1h2.4M37.67,263.9h2.4M37.8,267.7h2.4M37.93,271.5h2.4M38.06,275.3h2.4M38.19,279.1h2.4M38.32,282.9h2.4M38.46,286.7h2.4M38.59,290.5h2.4M38.72,294.3h2.4M38.85,298.1h2.4" fill="none" stroke="#000" stroke-width="1.1" />
<path d="M41.18,214.5h-1.5M41.34,218.3h-1.5M41.49,222.1h-1.5M41.65,225.9h-1.5M41.81,229.7h-1.5M41.96,233.5h-1.5M42.12,237.3h-1.5M42.28,241.1h-1.5M42.43,244.9h-1.5M42.59,248.7h-1.5M42.74,252.5h-1.5M42.9,256.3h-1.5M43.06,260.1h-1.5M43.21,263.9h-1.5M43.37,267.7h-1.5M43.53,271.5h-1.5M43.68,275.3h-1.5M43.84,279.1h-1.5M43.99,282.9h-1.5M44.15,286.7h-1.5M44.31,290.5h-1.5M44.46,294.3h-1.5M44.62,298.1h-1.5" fill="none" stroke="#000" stroke-width="1.2" />
<path d="M38.93,304.5h2.4M38.8,308.3h2.4M38.67,312.1h2.4M38.54,315.9h2.4M38.41,319.7h2.4M38.28,323.5h2.4M38.15,327.3h2.4M38.01,331.1h2.4M37.88,334.9h2.4M37.75,338.7h2.4M37.62,342.5h2.4M37.49,346.3h2.4M37.36,350.1h2.4M37.23,353.9h2.4M37.1,357.7h2.4M36.97,361.5h2.4M36.84,365.3h2.4M36.71,369.1h2.4M36.58,372.9h2.4M36.44,376.7h2.4M36.31,380.5h2.4M36.18,384.3h2.4M36.05,388.1h2.4" fill="none" stroke="#000" stroke-width="1.1" />
<path d="M44.72,304.5h-1.5M44.56,308.3h-1.5M44.41,312.1h-1.5M44.25,315.9h-1.5M44.09,319.7h-1.5M43.94,323.5h-1.5M43.78,327.3h-1.5M43.62,331.1h-1.5M43.47,334.9h-1.5M43.31,338.7h-1.5M43.16,342.5h-1.5M43,346.3h-1.5M42.84,350.1h-1.5M42.69,353.9h-1.5M42.53,357.7h-1.5M42.37,361.5h-1.5M42.22,365.3h-1.5M42.06,369.1h-1.5M41.91,372.9h-1.5M41.75,376.7h-1.5M41.59,380.5h-1.5M41.44,384.3h-1.5M41.28,388.1h-1.5" fill="none" stroke="#000" stroke-width="1.2" />
<path d="M35.97,394.5h2.4M36.1,398.3h2.4M36.23,402.1h2.4M36.36,405.9h2.4M36.49,409.7h2.4M36.62,413.5h2.4M36.75,417.3h2.4M36.89,421.1h2.4M37.02,424.9h2.4M37.15,428.7h2.4M37.28,432.5h2.4M37.41,436.3h2.4M37.54,440.1h2.4M37.67,443.9h2.4M37.8,447.7h2.4M37.93,451.5h2.4M38.06,455.3h2.4M38.19,459.1h2.4M38.32,462.9h2.4M38.46,466.7h2.4M38.59,470.5h2.4M38.72,474.3h2.4M38.85,478.1h2.4" fill="none" stroke="#000" stroke-width="1.1" />
<path d="M41.18,394.5h-1.5M41.34,398.3h-1.5M41.49,402.1h-1.5M41.65,405.9h-1.5M41.81,409.7h-1.5M41.96,413.5h-1.5M42.12,417.3h-1.5M42.28,421.1h-1.5M42.43,424.9h-1.5M42.59,428.7h-1.5M42.74,432.5h-1.5M42.9,436.3h-1.5M43.06,440.1h-1.5M43.21,443.9h-1.5M43.37,447.7h-1.5M43.53,451.5h-1.5M43.68,455.3h-1.5M43.84,459.1h-1.5M43.99,462.9h-1.5M44.15,466.7h-1.5M44.31,470.5h-1.5M44.46,474.3h-1.5M44.62,478.1h-1.5" fill="none" stroke="#000" stroke-width="1.2" />
<path d="M38.93,484.5h2.4M38.8,488.3h2.4M38.67,492.1h2.4M38.54,495.9h2.4M38.41,499.7h2.4M38.28,503.5h2.4M38.15,507.3h2.4M38.01,511.1h2.4M37.88,514.9h2.4M37.75,518.7h2.4M37.62,522.5h2.4M37.49,526.3h2.4M37.36,530.1h2.4M37.23,533.9h2.4M37.1,537.7h2.4M36.97,541.5h2.4M36.84,545.3h2.4M36.71,549.1h2.4M36.58,552.9h2.4M36.44,556.7h2.4M36.31,560.5h2.4M36.18,564.3h2.4M36.05,568.1h2.4" fill="none" stroke="#000" stroke-width="1.1" />
<path d="M44.72,484.5h-1.5M44.56,488.3h-1.5M44.41,492.1h-1.5M44.25,495.9h-1.5M44.09,499.7h-1.5M43.94,503.5h-1.5M43.78,507.3h-1.5M43.62,511.1h-1.5M43.47,514.9h-1.5M43.31,518.7h-1.5M43.16,522.5h-1.5M43,526.3h-1.5M42.84,530.1h-1.5M42.69,533.9h-1.5M42.53,537.7h-1.5M42.37,541.5h-1.5M42.22,545.3h-1.5M42.06,549.1h-1.5M41.91,552.9h-1.5M41.75,556.7h-1.5M41.59,560.5h-1.5M41.44,564.3h-1.5M41.28,568.1h-1.5" fill="none" stroke="#000" stroke-width="1.2" />
<path d="M35.97,574.5h2.4M36.1,578.3h2.4M36.23,582.1h2.4M36.36,585.9h2.4M36.49,589.7h2.4M36.62,593.5h2.4M36.75,597.3h2.4M36.89,601.1h2.4M37.02,604.9h2.4M37.15,608.7h2.4M37.28,612.5h2.4M37.41,616.3h2.4M37.54,620.1h2.4M37.67,623.9h2.4M37.8,627.7h2.4M37.93,631.5h2.4M38.06,635.3h2.4M38.19,639.1h2.4M38.32,642.9h2.4M38.46,646.7h2.4M38.59,650.5h2.4M38.72,654.3h2.4M38.85,658.1h2.4" fill="none" stroke="#000" stroke-width="1.1" />
<path d="M41.18,574.5h-1.5M41.34,578.3h-1.5M41.49,582.1h-1.5M41.65,585.9h-1.5M41.81,589.7h-1.5M41.96,593.5h-1.5M42.12,597.3h-1.5M42.28,601.1h-1.5M42.43,604.9h-1.5M42.59,608.7h-1.5M42.74,612.5h-1.5M42.9,616.3h-1.5M43.06,620.1h-1.5M43.21,623.9h-1.5M43.37,627.7h-1.5M43.53,631.5h-1.5M43.68,635.3h-1.5M43.84,639.1h-1.5M43.99,642.9h-1.5M44.15,646.7h-1.5M44.31,650.5h-1.5M44.46,654.3h-1.5M44.62,658.1h-1.5" fill="none" stroke="#000" stroke-width="1.2" />
<path d="M38.94,664.5h2.4M38.82,668.3h2.4M38.7,672.1h2.4M38.58,675.9h2.4M38.46,679.7h2.4M38.35,683.5h2.4M38.23,687.3h2.4M38.11,691.1h2.4M37.99,694.9h2.4M37.87,698.7h2.4M37.76,702.5h2.4M37.64,706.3h2.4M37.52,710.1h2.4M37.4,713.9h2.4M37.28,717.7h2.4M37.16,721.5h2.4M37.05,725.3h2.4M36.93,729.1h2.4M36.81,732.9h2.4M36.69,736.7h2.4M36.57,740.5h2.4M36.45,744.3h2.4M36.34,748.1h2.4M36.22,751.9h2.4M36.1,755.7h2.4M35.98,759.5h2.4" fill="none" stroke="#000" stroke-width="1.1" />
<path d="M44.73,664.5h-1.5M44.58,668.3h-1.5M44.44,672.1h-1.5M44.3,675.9h-1.5M44.16,679.7h-1.5M44.02,683.5h-1.5M43.88,687.3h-1.5M43.74,691.1h-1.5M43.6,694.9h-1.5M43.46,698.7h-1.5M43.31,702.5h-1.5M43.17,706.3h-1.5M43.03,710.1h-1.5M42.89,713.9h-1.5M42.75,717.7h-1.5M42.61,721.5h-1.5M42.47,725.3h-1.5M42.33,729.1h-1.5M42.18,732.9h-1.5M42.04,736.7h-1.5M41.9,740.5h-1.5M41.76,744.3h-1.5M41.62,748.1h-1.5M41.48,751.9h-1.5M41.34,755.7h-1.5M41.2,759.5h-1.5" fill="none" stroke="#000" stroke-width="1.2" />
<rect x="146" y="34.1" width="5.2" height="10.4" fill="#000" stroke="#000" stroke-width="0.6" />
<polygon points="147.7,43.5 149.7,43.5 150.8,84.5 146.6,84.5" fill="#000" stroke="#000" stroke-width="0.6" />
<path d="M145.6,84.9 L148.7,77.5 L151.8,84.9 Z" fill="#000" stroke="#000" stroke-width="0.8" />
<polygon points="148.8,84 150.99,84.14 152.96,84.57 154.72,85.28 156.27,86.28 157.61,87.57 158.74,89.14 159.67,91 160.39,93.14 160.9,95.56 161.22,98.28 161.9,101.5 162.59,104.85 163.28,108.32 163.95,111.84 164.61,115.41 165.23,118.97 165.82,122.5 166.36,125.96 166.84,129.32 167.25,132.54 167.86,136.41 168.07,139.99 167.88,143.27 167.31,146.2 166.35,148.77 165.01,150.93 163.31,152.67 161.23,153.94 158.79,154.73 156,155 142.47,155 139.66,154.73 137.21,153.94 135.12,152.67 133.4,150.93 132.06,148.77 131.09,146.2 130.52,143.27 130.33,139.99 130.54,136.41 131.15,132.54 131.51,129.32 131.95,125.96 132.44,122.5 132.98,118.97 133.56,115.41 134.18,111.84 134.83,108.32 135.5,104.85 136.17,101.5 136.85,98.28 137.13,95.56 137.6,93.14 138.26,91 139.12,89.14 140.18,87.57 141.45,86.28 142.95,85.28 144.66,84.57 146.61,84.14 148.8,84" fill="none" stroke="#000" stroke-width="4.5" stroke-linejoin="round"/>
<rect x="146" y="214.1" width="5.2" height="10.4" fill="#000" stroke="#000" stroke-width="0.6" />
<polygon points="147.7,223.5 149.7,223.5 150.8,264.5 146.6,264.5" fill="#000" stroke="#000" stroke-width="0.6" />
<path d="M145.6,264.9 L148.7,257.5 L151.8,264.9 Z" fill="#000" stroke="#000" stroke-width="0.8" />
<polygon points="148.8,264 150.99,264.14 152.96,264.57 154.72,265.28 156.27,266.28 157.61,267.57 158.74,269.14 159.67,271 160.39,273.14 160.9,275.56 161.22,278.28 161.9,281.5 162.59,284.85 163.28,288.32 163.95,291.84 164.61,295.41 165.23,298.97 165.82,302.5 166.36,305.96 166.84,309.32 167.25,312.54 167.86,316.41 168.07,319.99 167.88,323.27 167.31,326.2 166.35,328.77 165.01,330.93 163.31,332.67 161.23,333.94 158.79,334.73 156,335 142.47,335 139.66,334.73 137.21,333.94 135.12,332.67 133.4,330.93 132.06,328.77 131.09,326.2 130.52,323.27 130.33,319.99 130.54,316.41 131.15,312.54 131.51,309.32 131.95,305.96 132.44,302.5 132.98,298.97 133.56,295.41 134.18,291.84 134.83,288.32 135.5,284.85 136.17,281.5 136.85,278.28 137.13,275.56 137.6,273.14 138.26,271 139.12,269.14 140.18,267.57 141.45,266.28 142.95,265.28 144.66,264.57 146.61,264.14 148.8,264" fill="none" stroke="#000" stroke-width="4.5" stroke-linejoin="round"/>
<rect x="146" y="394.1" width="5.2" height="10.4" fill="#000" stroke="#000" stroke-width="0.6" />
<polygon points="147.7,403.5 149.7,403.5 150.8,444.5 146.6,444.5" fill="#000" stroke="#000" stroke-width="0.6" />
<path d="M145.6,444.9 L148.7,437.5 L151.8,444.9 Z" fill="#000" stroke="#000" stroke-width="0.8" />
<polygon points="148.8,444 150.99,444.14 152.96,444.57 154.72,445.28 156.27,446.28 157.61,447.57 158.74,449.14 159.67,451 160.39,453.14 160.9,455.56 161.22,458.28 161.9,461.5 162.59,464.85 163.28,468.32 163.95,471.84 164.61,475.41 165.23,478.97 165.82,482.5 166.36,485.96 166.84,489.32 167.25,492.54 167.86,496.41 168.07,499.99 167.88,503.27 167.31,506.2 166.35,508.77 165.01,510.93 163.31,512.67 161.23,513.94 158.79,514.73 156,515 142.47,515 139.66,514.73 137.21,513.94 135.12,512.67 133.4,510.93 132.06,508.77 131.09,506.2 130.52,503.27 130.33,499.99 130.54,496.41 131.15,492.54 131.51,489.32 131.95,485.96 132.44,482.5 132.98,478.97 133.56,475.41 134.18,471.84 134.83,468.32 135.5,464.85 136.17,461.5 136.85,458.28 137.13,455.56 137.6,453.14 138.26,451 139.12,449.14 140.18,447.57 141.45,446.28 142.95,445.28 144.66,444.57 146.61,444.14 148.8,444" fill="none" stroke="#000" stroke-width="4.5" stroke-linejoin="round"/>
<rect x="146" y="574.1" width="5.2" height="10.4" fill="#000" stroke="#000" stroke-width="0.6" />
<polygon points="147.7,583.5 149.7,583.5 150.8,624.5 146.6,624.5" fill="#000" stroke="#000" stroke-width="0.6" />
<path d="M145.6,624.9 L148.7,617.5 L151.8,624.9 Z" fill="#000" stroke="#000" stroke-width="0.8" />
<polygon points="148.8,624 150.99,624.14 152.96,624.57 154.72,625.28 156.27,626.28 157.61,627.57 158.74,629.14 159.67,631 160.39,633.14 160.9,635.56 161.22,638.28 161.9,641.5 162.59,644.85 163.28,648.32 163.95,651.84 164.61,655.41 165.23,658.97 165.82,662.5 166.36,665.96 166.84,669.32 167.25,672.54 167.86,676.41 168.07,679.99 167.88,683.27 167.31,686.2 166.35,688.77 165.01,690.93 163.31,692.67 161.23,693.94 158.79,694.73 156,695 142.47,695 139.66,694.73 137.21,693.94 135.12,692.67 133.4,690.93 132.06,688.77 131.09,686.2 130.52,683.27 130.33,679.99 130.54,676.41 131.15,672.54 131.51,669.32 131.95,665.96 132.44,662.5 132.98,658.97 133.56,655.41 134.18,651.84 134.83,648.32 135.5,644.85 136.17,641.5 136.85,638.28 137.13,635.56 137.6,633.14 138.26,631 139.12,629.14 140.18,627.57 141.45,626.28 142.95,625.28 144.66,624.57 146.61,624.14 148.8,624" fill="none" stroke="#000" stroke-width="4.5" stroke-linejoin="round"/>
<rect x="100.8" y="124.5" width="6.2" height="10.4" fill="#fff" stroke="#000" stroke-width="1.2" />
<rect x="100.6" y="124.5" width="2.6" height="10.6" fill="#000" stroke="#000" stroke-width="0.6" />
<polygon points="102.9,134.5 104.7,134.5 105.9,174.5 101.8,174.5" fill="#000" stroke="#000" stroke-width="0.6" />
<polygon points="104,172 105.84,172.15 107.49,172.61 108.97,173.37 110.27,174.43 111.4,175.8 112.35,177.47 113.13,179.44 113.73,181.72 114.17,184.3 114.43,187.18 115.26,190.58 116.17,194.07 117.11,197.64 118.07,201.25 119.02,204.89 119.91,208.53 120.74,212.15 121.45,215.71 122.03,219.21 122.45,222.6 123.03,226.74 123.17,230.63 122.89,234.23 122.19,237.49 121.1,240.36 119.63,242.82 117.8,244.8 115.62,246.27 113.12,247.19 110.3,247.5 98.42,247.5 95.51,247.19 92.92,246.27 90.67,244.8 88.78,242.82 87.26,240.36 86.13,237.49 85.41,234.23 85.12,230.63 85.26,226.74 85.86,222.6 86.24,219.21 86.78,215.71 87.46,212.15 88.24,208.53 89.11,204.89 90.04,201.25 90.98,197.64 91.93,194.07 92.84,190.58 93.69,187.18 93.93,184.3 94.33,181.72 94.9,179.44 95.64,177.47 96.56,175.8 97.66,174.43 98.95,173.37 100.43,172.61 102.11,172.15 104,172" fill="#000" stroke="#000" stroke-width="0.8" stroke-linejoin="round"/>
<polygon points="104.4,176 105.59,176.14 106.66,176.54 107.61,177.22 108.45,178.17 109.18,179.39 109.79,180.89 110.3,182.65 110.69,184.69 110.97,186.99 111.14,189.57 111.77,192.61 112.51,195.73 113.3,198.92 114.13,202.15 114.96,205.41 115.75,208.66 116.48,211.89 117.1,215.08 117.6,218.2 117.93,221.24 118.34,224.94 118.39,228.42 118.11,231.64 117.51,234.55 116.61,237.12 115.44,239.31 114,241.09 112.33,242.4 110.45,243.22 108.36,243.5 101.23,243.5 99.22,243.22 97.4,242.4 95.8,241.09 94.42,239.31 93.29,237.12 92.42,234.55 91.85,231.64 91.57,228.42 91.62,224.94 92.02,221.24 92.3,218.2 92.73,215.08 93.28,211.89 93.94,208.66 94.65,205.41 95.41,202.15 96.17,198.92 96.91,195.73 97.59,192.61 98.2,189.57 98.34,186.99 98.59,184.69 98.93,182.65 99.37,180.89 99.92,179.39 100.59,178.17 101.36,177.22 102.25,176.54 103.26,176.14 104.4,176" fill="#fff" stroke="#000" stroke-width="0.6" stroke-linejoin="round"/>
<polygon points="95.91,181 95.69,182 95.53,183 95.38,184 95.27,185 95.19,186 95.1,187 94.88,188 94.63,189 94.38,190 94.13,191 93.87,192 93.61,193 93.35,194 93.08,195 92.82,196 92.55,197 92.29,198 92.03,199 91.77,200 91.5,201 91.25,202 90.99,203 90.74,204 90.49,205 90.25,206 90.01,207 89.77,208 89.54,209 89.32,210 89.11,211 88.89,212 88.69,213 88.5,214 88.31,215 88.13,216 87.98,217 87.82,218 87.67,219 87.55,220 87.44,221 87.33,222 87.21,223 87.06,224 86.92,225 86.77,226 86.65,227 86.62,228 86.58,229 86.54,230 86.55,231 86.63,232 86.71,233 86.79,234 86.98,235 87.2,236 87.43,237 87.73,238 88.13,239 93.16,239 92.64,238 92.15,237 91.81,236 91.48,235 91.22,234 91.02,233 90.82,232 90.69,231 90.61,230 90.52,229 90.48,228 90.49,227 90.51,226 90.52,225 90.62,224 90.73,223 90.84,222 90.94,221 91.03,220 91.12,219 91.22,218 91.36,217 91.5,216 91.64,215 91.82,214 91.99,213 92.17,212 92.36,211 92.57,210 92.77,209 92.98,208 93.2,207 93.42,206 93.65,205 93.88,204 94.11,203 94.35,202 94.58,201 94.82,200 95.05,199 95.28,198 95.52,197 95.75,196 95.97,195 96.19,194 96.41,193 96.61,192 96.81,191 97.01,190 97.13,189 97.19,188 97.24,187 97.35,186 97.45,185 97.6,184 97.77,183 97.99,182 98.24,181" fill="#fff" stroke="none"/>
<path d="M95.69,182H97.99M95.27,185H97.45M94.88,188H97.19M94.13,191H96.81M93.35,194H96.19M92.55,197H95.52M91.77,200H94.82M90.99,203H94.11M90.25,206H93.42M89.54,209H92.77M88.89,212H92.17M88.31,215H91.64M87.82,218H91.22M87.44,221H90.94M87.06,224H90.62M86.65,227H90.49M86.54,230H90.61M86.71,233H91.02M87.2,236H91.81M88.13,239H93.16" fill="none" stroke="#000" stroke-width="1.3" />
<rect x="100.8" y="304.5" width="6.2" height="10.4" fill="#fff" stroke="#000" stroke-width="1.2" />
<rect x="100.6" y="304.5" width="2.6" height="10.6" fill="#000" stroke="#000" stroke-width="0.6" />
<polygon points="102.9,314.5 104.7,314.5 105.9,354.5 101.8,354.5" fill="#000" stroke="#000" stroke-width="0.6" />
<polygon points="104,352 105.84,352.15 107.49,352.61 108.97,353.37 110.27,354.43 111.4,355.8 112.35,357.47 113.13,359.44 113.73,361.72 114.17,364.3 114.43,367.18 115.26,370.58 116.17,374.07 117.11,377.64 118.07,381.25 119.02,384.89 119.91,388.53 120.74,392.15 121.45,395.71 122.03,399.21 122.45,402.6 123.03,406.74 123.17,410.63 122.89,414.23 122.19,417.49 121.1,420.36 119.63,422.82 117.8,424.8 115.62,426.27 113.12,427.19 110.3,427.5 98.42,427.5 95.51,427.19 92.92,426.27 90.67,424.8 88.78,422.82 87.26,420.36 86.13,417.49 85.41,414.23 85.12,410.63 85.26,406.74 85.86,402.6 86.24,399.21 86.78,395.71 87.46,392.15 88.24,388.53 89.11,384.89 90.04,381.25 90.98,377.64 91.93,374.07 92.84,370.58 93.69,367.18 93.93,364.3 94.33,361.72 94.9,359.44 95.64,357.47 96.56,355.8 97.66,354.43 98.95,353.37 100.43,352.61 102.11,352.15 104,352" fill="#000" stroke="#000" stroke-width="0.8" stroke-linejoin="round"/>
<polygon points="104.4,356 105.59,356.14 106.66,356.54 107.61,357.22 108.45,358.17 109.18,359.39 109.79,360.89 110.3,362.65 110.69,364.69 110.97,366.99 111.14,369.57 111.77,372.61 112.51,375.73 113.3,378.92 114.13,382.15 114.96,385.41 115.75,388.66 116.48,391.89 117.1,395.08 117.6,398.2 117.93,401.24 118.34,404.94 118.39,408.42 118.11,411.64 117.51,414.55 116.61,417.12 115.44,419.31 114,421.09 112.33,422.4 110.45,423.22 108.36,423.5 101.23,423.5 99.22,423.22 97.4,422.4 95.8,421.09 94.42,419.31 93.29,417.12 92.42,414.55 91.85,411.64 91.57,408.42 91.62,404.94 92.02,401.24 92.3,398.2 92.73,395.08 93.28,391.89 93.94,388.66 94.65,385.41 95.41,382.15 96.17,378.92 96.91,375.73 97.59,372.61 98.2,369.57 98.34,366.99 98.59,364.69 98.93,362.65 99.37,360.89 99.92,359.39 100.59,358.17 101.36,357.22 102.25,356.54 103.26,356.14 104.4,356" fill="#fff" stroke="#000" stroke-width="0.6" stroke-linejoin="round"/>
<polygon points="95.91,361 95.69,362 95.53,363 95.38,364 95.27,365 95.19,366 95.1,367 94.88,368 94.63,369 94.38,370 94.13,371 93.87,372 93.61,373 93.35,374 93.08,375 92.82,376 92.55,377 92.29,378 92.03,379 91.77,380 91.5,381 91.25,382 90.99,383 90.74,384 90.49,385 90.25,386 90.01,387 89.77,388 89.54,389 89.32,390 89.11,391 88.89,392 88.69,393 88.5,394 88.31,395 88.13,396 87.98,397 87.82,398 87.67,399 87.55,400 87.44,401 87.33,402 87.21,403 87.06,404 86.92,405 86.77,406 86.65,407 86.62,408 86.58,409 86.54,410 86.55,411 86.63,412 86.71,413 86.79,414 86.98,415 87.2,416 87.43,417 87.73,418 88.13,419 93.16,419 92.64,418 92.15,417 91.81,416 91.48,415 91.22,414 91.02,413 90.82,412 90.69,411 90.61,410 90.52,409 90.48,408 90.49,407 90.51,406 90.52,405 90.62,404 90.73,403 90.84,402 90.94,401 91.03,400 91.12,399 91.22,398 91.36,397 91.5,396 91.64,395 91.82,394 91.99,393 92.17,392 92.36,391 92.57,390 92.77,389 92.98,388 93.2,387 93.42,386 93.65,385 93.88,384 94.11,383 94.35,382 94.58,381 94.82,380 95.05,379 95.28,378 95.52,377 95.75,376 95.97,375 96.19,374 96.41,373 96.61,372 96.81,371 97.01,370 97.13,369 97.19,368 97.24,367 97.35,366 97.45,365 97.6,364 97.77,363 97.99,362 98.24,361" fill="#fff" stroke="none"/>
<path d="M95.69,362H97.99M95.27,365H97.45M94.88,368H97.19M94.13,371H96.81M93.35,374H96.19M92.55,377H95.52M91.77,380H94.82M90.99,383H94.11M90.25,386H93.42M89.54,389H92.77M88.89,392H92.17M88.31,395H91.64M87.82,398H91.22M87.44,401H90.94M87.06,404H90.62M86.65,407H90.49M86.54,410H90.61M86.71,413H91.02M87.2,416H91.81M88.13,419H93.16" fill="none" stroke="#000" stroke-width="1.3" />
<rect x="100.8" y="484.5" width="6.2" height="10.4" fill="#fff" stroke="#000" stroke-width="1.2" />
<rect x="100.6" y="484.5" width="2.6" height="10.6" fill="#000" stroke="#000" stroke-width="0.6" />
<polygon points="102.9,494.5 104.7,494.5 105.9,534.5 101.8,534.5" fill="#000" stroke="#000" stroke-width="0.6" />
<polygon points="104,532 105.84,532.15 107.49,532.61 108.97,533.37 110.27,534.43 111.4,535.8 112.35,537.47 113.13,539.44 113.73,541.72 114.17,544.3 114.43,547.18 115.26,550.58 116.17,554.07 117.11,557.64 118.07,561.25 119.02,564.89 119.91,568.53 120.74,572.15 121.45,575.71 122.03,579.21 122.45,582.6 123.03,586.74 123.17,590.63 122.89,594.23 122.19,597.49 121.1,600.36 119.63,602.82 117.8,604.8 115.62,606.27 113.12,607.19 110.3,607.5 98.42,607.5 95.51,607.19 92.92,606.27 90.67,604.8 88.78,602.82 87.26,600.36 86.13,597.49 85.41,594.23 85.12,590.63 85.26,586.74 85.86,582.6 86.24,579.21 86.78,575.71 87.46,572.15 88.24,568.53 89.11,564.89 90.04,561.25 90.98,557.64 91.93,554.07 92.84,550.58 93.69,547.18 93.93,544.3 94.33,541.72 94.9,539.44 95.64,537.47 96.56,535.8 97.66,534.43 98.95,533.37 100.43,532.61 102.11,532.15 104,532" fill="#000" stroke="#000" stroke-width="0.8" stroke-linejoin="round"/>
<polygon points="104.4,536 105.59,536.14 106.66,536.54 107.61,537.22 108.45,538.17 109.18,539.39 109.79,540.89 110.3,542.65 110.69,544.69 110.97,546.99 111.14,549.57 111.77,552.61 112.51,555.73 113.3,558.92 114.13,562.15 114.96,565.41 115.75,568.66 116.48,571.89 117.1,575.08 117.6,578.2 117.93,581.24 118.34,584.94 118.39,588.42 118.11,591.64 117.51,594.55 116.61,597.12 115.44,599.31 114,601.09 112.33,602.4 110.45,603.22 108.36,603.5 101.23,603.5 99.22,603.22 97.4,602.4 95.8,601.09 94.42,599.31 93.29,597.12 92.42,594.55 91.85,591.64 91.57,588.42 91.62,584.94 92.02,581.24 92.3,578.2 92.73,575.08 93.28,571.89 93.94,568.66 94.65,565.41 95.41,562.15 96.17,558.92 96.91,555.73 97.59,552.61 98.2,549.57 98.34,546.99 98.59,544.69 98.93,542.65 99.37,540.89 99.92,539.39 100.59,538.17 101.36,537.22 102.25,536.54 103.26,536.14 104.4,536" fill="#fff" stroke="#000" stroke-width="0.6" stroke-linejoin="round"/>
<polygon points="95.91,541 95.69,542 95.53,543 95.38,544 95.27,545 95.19,546 95.1,547 94.88,548 94.63,549 94.38,550 94.13,551 93.87,552 93.61,553 93.35,554 93.08,555 92.82,556 92.55,557 92.29,558 92.03,559 91.77,560 91.5,561 91.25,562 90.99,563 90.74,564 90.49,565 90.25,566 90.01,567 89.77,568 89.54,569 89.32,570 89.11,571 88.89,572 88.69,573 88.5,574 88.31,575 88.13,576 87.98,577 87.82,578 87.67,579 87.55,580 87.44,581 87.33,582 87.21,583 87.06,584 86.92,585 86.77,586 86.65,587 86.62,588 86.58,589 86.54,590 86.55,591 86.63,592 86.71,593 86.79,594 86.98,595 87.2,596 87.43,597 87.73,598 88.13,599 93.16,599 92.64,598 92.15,597 91.81,596 91.48,595 91.22,594 91.02,593 90.82,592 90.69,591 90.61,590 90.52,589 90.48,588 90.49,587 90.51,586 90.52,585 90.62,584 90.73,583 90.84,582 90.94,581 91.03,580 91.12,579 91.22,578 91.36,577 91.5,576 91.64,575 91.82,574 91.99,573 92.17,572 92.36,571 92.57,570 92.77,569 92.98,568 93.2,567 93.42,566 93.65,565 93.88,564 94.11,563 94.35,562 94.58,561 94.82,560 95.05,559 95.28,558 95.52,557 95.75,556 95.97,555 96.19,554 96.41,553 96.61,552 96.81,551 97.01,550 97.13,549 97.19,548 97.24,547 97.35,546 97.45,545 97.6,544 97.77,543 97.99,542 98.24,541" fill="#fff" stroke="none"/>
<path d="M95.69,542H97.99M95.27,545H97.45M94.88,548H97.19M94.13,551H96.81M93.35,554H96.19M92.55,557H95.52M91.77,560H94.82M90.99,563H94.11M90.25,566H93.42M89.54,569H92.77M88.89,572H92.17M88.31,575H91.64M87.82,578H91.22M87.44,581H90.94M87.06,584H90.62M86.65,587H90.49M86.54,590H90.61M86.71,593H91.02M87.2,596H91.81M88.13,599H93.16" fill="none" stroke="#000" stroke-width="1.3" />
<rect x="64.4" y="35.5" width="7.6" height="11.4" fill="#fff" stroke="#000" stroke-width="1.3" />
<rect x="64.4" y="35.5" width="3.2" height="11.4" fill="#000" stroke="#000" stroke-width="0.6" />
<path d="M68.2,46.5 L68.3,64.5" fill="none" stroke="#000" stroke-width="2.2" />
<path d="M68.3,61.5 L68.4,84.5" fill="none" stroke="#000" stroke-width="4.8" />
<polygon points="68.6,82.5 70.11,82.65 71.47,83.1 72.69,83.84 73.75,84.88 74.68,86.22 75.46,87.86 76.1,89.79 76.59,92.02 76.95,94.55 77.17,97.38 77.83,100.6 78.5,103.72 79.17,106.77 79.84,109.77 80.47,112.75 81.07,115.73 81.61,118.74 82.08,121.79 82.46,124.91 82.74,128.13 83.11,132.3 83.01,136.41 82.48,140.38 81.57,144.12 80.33,147.52 78.8,150.51 77.02,153 75.04,154.88 72.91,156.08 70.67,156.5 67.2,156.5 64.93,156.08 62.77,154.88 60.76,153 58.96,150.51 57.4,147.52 56.14,144.12 55.21,140.38 54.68,136.41 54.57,132.3 54.95,128.13 55.19,124.91 55.54,121.79 55.97,118.74 56.47,115.73 57.04,112.75 57.65,109.77 58.29,106.77 58.96,103.72 59.62,100.6 60.28,97.38 60.48,94.55 60.8,92.02 61.26,89.79 61.86,87.86 62.6,86.22 63.49,84.88 64.53,83.84 65.72,83.1 67.08,82.65 68.6,82.5" fill="#000" stroke="#000" stroke-width="0.8" stroke-linejoin="round"/>
<polygon points="69,87.5 69.87,87.63 70.66,88.02 71.37,88.68 71.99,89.59 72.52,90.77 72.98,92.21 73.35,93.9 73.63,95.86 73.84,98.09 73.97,100.57 74.35,103.4 74.74,106.14 75.13,108.82 75.51,111.46 75.88,114.08 76.23,116.69 76.54,119.33 76.81,122.01 77.04,124.75 77.2,127.58 77.4,131.24 77.31,134.86 76.96,138.34 76.38,141.62 75.6,144.61 74.65,147.24 73.57,149.42 72.37,151.08 71.11,152.13 69.8,152.5 68.63,152.5 67.42,152.13 66.25,151.08 65.15,149.42 64.14,147.24 63.27,144.61 62.54,141.62 62,138.34 61.68,134.86 61.6,131.24 61.78,127.58 61.91,124.75 62.1,122.01 62.32,119.33 62.59,116.69 62.89,114.08 63.21,111.46 63.55,108.82 63.9,106.14 64.26,103.4 64.6,100.57 64.71,98.09 64.88,95.86 65.12,93.9 65.44,92.21 65.83,90.77 66.3,89.59 66.85,88.68 67.48,88.02 68.2,87.63 69,87.5" fill="#fff" stroke="#000" stroke-width="0.6" stroke-linejoin="round"/>
<polygon points="62.52,90.5 62.31,91.5 62.14,92.5 62.01,93.5 61.89,94.5 61.81,95.5 61.74,96.5 61.66,97.5 61.45,98.5 61.25,99.5 61.04,100.5 60.83,101.5 60.62,102.5 60.4,103.5 60.19,104.5 59.97,105.5 59.75,106.5 59.54,107.5 59.32,108.5 59.11,109.5 58.9,110.5 58.7,111.5 58.49,112.5 58.3,113.5 58.11,114.5 57.92,115.5 57.75,116.5 57.58,117.5 57.41,118.5 57.26,119.5 57.12,120.5 56.98,121.5 56.86,122.5 56.75,123.5 56.64,124.5 56.55,125.5 56.47,126.5 56.4,127.5 56.32,128.5 56.23,129.5 56.14,130.5 56.05,131.5 55.98,132.5 56.01,133.5 56.03,134.5 56.06,135.5 56.09,136.5 56.23,137.5 56.36,138.5 56.5,139.5 56.64,140.5 56.89,141.5 57.14,142.5 57.39,143.5 57.68,144.5 58.05,145.5 58.42,146.5 62.09,146.5 61.76,145.5 61.44,144.5 61.2,143.5 60.95,142.5 60.72,141.5 60.56,140.5 60.39,139.5 60.23,138.5 60.13,137.5 60.03,136.5 59.94,135.5 59.87,134.5 59.85,133.5 59.83,132.5 59.8,131.5 59.84,130.5 59.89,129.5 59.94,128.5 59.99,127.5 60.03,126.5 60.08,125.5 60.13,124.5 60.2,123.5 60.26,122.5 60.34,121.5 60.42,120.5 60.51,119.5 60.61,118.5 60.71,117.5 60.81,116.5 60.93,115.5 61.04,114.5 61.16,113.5 61.28,112.5 61.41,111.5 61.54,110.5 61.66,109.5 61.79,108.5 61.92,107.5 62.06,106.5 62.18,105.5 62.31,104.5 62.44,103.5 62.57,102.5 62.69,101.5 62.81,100.5 62.85,99.5 62.89,98.5 62.95,97.5 63.03,96.5 63.12,95.5 63.25,94.5 63.4,93.5 63.58,92.5 63.83,91.5 64.13,90.5" fill="#fff" stroke="none"/>
<path d="M62.31,91.5H63.83M61.89,94.5H63.25M61.66,97.5H62.95M61.04,100.5H62.81M60.4,103.5H62.44M59.75,106.5H62.06M59.11,109.5H61.66M58.49,112.5H61.28M57.92,115.5H60.93M57.41,118.5H60.61M56.98,121.5H60.34M56.64,124.5H60.13M56.4,127.5H59.99M56.14,130.5H59.84M56.01,133.5H59.85M56.09,136.5H60.03M56.5,139.5H60.39M57.14,142.5H60.95M58.05,145.5H61.76" fill="none" stroke="#000" stroke-width="1.3" />
<polygon points="74.86,90.5 75.08,91.5 75.26,92.5 75.4,93.5 75.54,94.5 75.62,95.5 75.7,96.5 75.79,97.5 76,98.5 76.2,99.5 76.41,100.5 76.62,101.5 76.84,102.5 77.05,103.5 77.27,104.5 77.49,105.5 77.71,106.5 77.93,107.5 78.16,108.5 78.38,109.5 78.59,110.5 78.81,111.5 79.02,112.5 79.22,113.5 79.42,114.5 79.62,115.5 79.81,116.5 79.99,117.5 80.17,118.5 80.33,119.5 80.48,120.5 80.63,121.5 80.77,122.5 80.89,123.5 81.01,124.5 81.11,125.5 81.2,126.5 81.29,127.5 81.38,128.5 81.47,129.5 81.56,130.5 81.64,131.5 81.71,132.5 81.69,133.5 81.66,134.5 81.64,135.5 81.6,136.5 81.47,137.5 81.33,138.5 81.2,139.5 81.06,140.5 80.81,141.5 80.57,142.5 80.32,143.5 80.03,144.5 79.67,145.5 79.3,146.5 76.72,146.5 77.08,145.5 77.43,144.5 77.69,143.5 77.95,142.5 78.2,141.5 78.38,140.5 78.56,139.5 78.73,138.5 78.85,137.5 78.95,136.5 79.05,135.5 79.12,134.5 79.15,133.5 79.17,132.5 79.2,131.5 79.16,130.5 79.11,129.5 79.05,128.5 79,127.5 78.94,126.5 78.88,125.5 78.82,124.5 78.73,123.5 78.65,122.5 78.56,121.5 78.46,120.5 78.36,119.5 78.24,118.5 78.13,117.5 78,116.5 77.87,115.5 77.74,114.5 77.6,113.5 77.46,112.5 77.32,111.5 77.17,110.5 77.03,109.5 76.88,108.5 76.74,107.5 76.59,106.5 76.45,105.5 76.3,104.5 76.16,103.5 76.03,102.5 75.89,101.5 75.76,100.5 75.71,99.5 75.66,98.5 75.59,97.5 75.49,96.5 75.38,95.5 75.23,94.5 75.06,93.5 74.84,92.5 74.55,91.5 74.2,90.5" fill="#fff" stroke="none"/>
<path d="M75.08,91.5H74.55M75.54,94.5H75.23M75.79,97.5H75.59M76.41,100.5H75.76M77.05,103.5H76.16M77.71,106.5H76.59M78.38,109.5H77.03M79.02,112.5H77.46M79.62,115.5H77.87M80.17,118.5H78.24M80.63,121.5H78.56M81.01,124.5H78.82M81.29,127.5H79M81.56,130.5H79.16M81.69,133.5H79.15M81.6,136.5H78.95M81.2,139.5H78.56M80.57,142.5H77.95M79.67,145.5H77.08" fill="none" stroke="#000" stroke-width="1.3" />
<rect x="64.4" y="215.5" width="7.6" height="11.4" fill="#fff" stroke="#000" stroke-width="1.3" />
<rect x="64.4" y="215.5" width="3.2" height="11.4" fill="#000" stroke="#000" stroke-width="0.6" />
<path d="M68.2,226.5 L68.3,244.5" fill="none" stroke="#000" stroke-width="2.2" />
<path d="M68.3,241.5 L68.4,264.5" fill="none" stroke="#000" stroke-width="4.8" />
<polygon points="68.6,262.5 70.11,262.65 71.47,263.1 72.69,263.84 73.75,264.88 74.68,266.22 75.46,267.86 76.1,269.79 76.59,272.02 76.95,274.55 77.17,277.38 77.83,280.6 78.5,283.72 79.17,286.77 79.84,289.77 80.47,292.75 81.07,295.73 81.61,298.74 82.08,301.79 82.46,304.91 82.74,308.13 83.11,312.3 83.01,316.41 82.48,320.38 81.57,324.12 80.33,327.52 78.8,330.51 77.02,333 75.04,334.88 72.91,336.08 70.67,336.5 67.2,336.5 64.93,336.08 62.77,334.88 60.76,333 58.96,330.51 57.4,327.52 56.14,324.12 55.21,320.38 54.68,316.41 54.57,312.3 54.95,308.13 55.19,304.91 55.54,301.79 55.97,298.74 56.47,295.73 57.04,292.75 57.65,289.77 58.29,286.77 58.96,283.72 59.62,280.6 60.28,277.38 60.48,274.55 60.8,272.02 61.26,269.79 61.86,267.86 62.6,266.22 63.49,264.88 64.53,263.84 65.72,263.1 67.08,262.65 68.6,262.5" fill="#000" stroke="#000" stroke-width="0.8" stroke-linejoin="round"/>
<polygon points="69,267.5 69.87,267.63 70.66,268.02 71.37,268.68 71.99,269.59 72.52,270.77 72.98,272.21 73.35,273.9 73.63,275.86 73.84,278.09 73.97,280.57 74.35,283.4 74.74,286.14 75.13,288.82 75.51,291.46 75.88,294.08 76.23,296.69 76.54,299.33 76.81,302.01 77.04,304.75 77.2,307.58 77.4,311.24 77.31,314.86 76.96,318.34 76.38,321.62 75.6,324.61 74.65,327.24 73.57,329.42 72.37,331.08 71.11,332.13 69.8,332.5 68.63,332.5 67.42,332.13 66.25,331.08 65.15,329.42 64.14,327.24 63.27,324.61 62.54,321.62 62,318.34 61.68,314.86 61.6,311.24 61.78,307.58 61.91,304.75 62.1,302.01 62.32,299.33 62.59,296.69 62.89,294.08 63.21,291.46 63.55,288.82 63.9,286.14 64.26,283.4 64.6,280.57 64.71,278.09 64.88,275.86 65.12,273.9 65.44,272.21 65.83,270.77 66.3,269.59 66.85,268.68 67.48,268.02 68.2,267.63 69,267.5" fill="#fff" stroke="#000" stroke-width="0.6" stroke-linejoin="round"/>
<polygon points="62.52,270.5 62.31,271.5 62.14,272.5 62.01,273.5 61.89,274.5 61.81,275.5 61.74,276.5 61.66,277.5 61.45,278.5 61.25,279.5 61.04,280.5 60.83,281.5 60.62,282.5 60.4,283.5 60.19,284.5 59.97,285.5 59.75,286.5 59.54,287.5 59.32,288.5 59.11,289.5 58.9,290.5 58.7,291.5 58.49,292.5 58.3,293.5 58.11,294.5 57.92,295.5 57.75,296.5 57.58,297.5 57.41,298.5 57.26,299.5 57.12,300.5 56.98,301.5 56.86,302.5 56.75,303.5 56.64,304.5 56.55,305.5 56.47,306.5 56.4,307.5 56.32,308.5 56.23,309.5 56.14,310.5 56.05,311.5 55.98,312.5 56.01,313.5 56.03,314.5 56.06,315.5 56.09,316.5 56.23,317.5 56.36,318.5 56.5,319.5 56.64,320.5 56.89,321.5 57.14,322.5 57.39,323.5 57.68,324.5 58.05,325.5 58.42,326.5 62.09,326.5 61.76,325.5 61.44,324.5 61.2,323.5 60.95,322.5 60.72,321.5 60.56,320.5 60.39,319.5 60.23,318.5 60.13,317.5 60.03,316.5 59.94,315.5 59.87,314.5 59.85,313.5 59.83,312.5 59.8,311.5 59.84,310.5 59.89,309.5 59.94,308.5 59.99,307.5 60.03,306.5 60.08,305.5 60.13,304.5 60.2,303.5 60.26,302.5 60.34,301.5 60.42,300.5 60.51,299.5 60.61,298.5 60.71,297.5 60.81,296.5 60.93,295.5 61.04,294.5 61.16,293.5 61.28,292.5 61.41,291.5 61.54,290.5 61.66,289.5 61.79,288.5 61.92,287.5 62.06,286.5 62.18,285.5 62.31,284.5 62.44,283.5 62.57,282.5 62.69,281.5 62.81,280.5 62.85,279.5 62.89,278.5 62.95,277.5 63.03,276.5 63.12,275.5 63.25,274.5 63.4,273.5 63.58,272.5 63.83,271.5 64.13,270.5" fill="#fff" stroke="none"/>
<path d="M62.31,271.5H63.83M61.89,274.5H63.25M61.66,277.5H62.95M61.04,280.5H62.81M60.4,283.5H62.44M59.75,286.5H62.06M59.11,289.5H61.66M58.49,292.5H61.28M57.92,295.5H60.93M57.41,298.5H60.61M56.98,301.5H60.34M56.64,304.5H60.13M56.4,307.5H59.99M56.14,310.5H59.84M56.01,313.5H59.85M56.09,316.5H60.03M56.5,319.5H60.39M57.14,322.5H60.95M58.05,325.5H61.76" fill="none" stroke="#000" stroke-width="1.3" />
<polygon points="74.86,270.5 75.08,271.5 75.26,272.5 75.4,273.5 75.54,274.5 75.62,275.5 75.7,276.5 75.79,277.5 76,278.5 76.2,279.5 76.41,280.5 76.62,281.5 76.84,282.5 77.05,283.5 77.27,284.5 77.49,285.5 77.71,286.5 77.93,287.5 78.16,288.5 78.38,289.5 78.59,290.5 78.81,291.5 79.02,292.5 79.22,293.5 79.42,294.5 79.62,295.5 79.81,296.5 79.99,297.5 80.17,298.5 80.33,299.5 80.48,300.5 80.63,301.5 80.77,302.5 80.89,303.5 81.01,304.5 81.11,305.5 81.2,306.5 81.29,307.5 81.38,308.5 81.47,309.5 81.56,310.5 81.64,311.5 81.71,312.5 81.69,313.5 81.66,314.5 81.64,315.5 81.6,316.5 81.47,317.5 81.33,318.5 81.2,319.5 81.06,320.5 80.81,321.5 80.57,322.5 80.32,323.5 80.03,324.5 79.67,325.5 79.3,326.5 76.72,326.5 77.08,325.5 77.43,324.5 77.69,323.5 77.95,322.5 78.2,321.5 78.38,320.5 78.56,319.5 78.73,318.5 78.85,317.5 78.95,316.5 79.05,315.5 79.12,314.5 79.15,313.5 79.17,312.5 79.2,311.5 79.16,310.5 79.11,309.5 79.05,308.5 79,307.5 78.94,306.5 78.88,305.5 78.82,304.5 78.73,303.5 78.65,302.5 78.56,301.5 78.46,300.5 78.36,299.5 78.24,298.5 78.13,297.5 78,296.5 77.87,295.5 77.74,294.5 77.6,293.5 77.46,292.5 77.32,291.5 77.17,290.5 77.03,289.5 76.88,288.5 76.74,287.5 76.59,286.5 76.45,285.5 76.3,284.5 76.16,283.5 76.03,282.5 75.89,281.5 75.76,280.5 75.71,279.5 75.66,278.5 75.59,277.5 75.49,276.5 75.38,275.5 75.23,274.5 75.06,273.5 74.84,272.5 74.55,271.5 74.2,270.5" fill="#fff" stroke="none"/>
<path d="M75.08,271.5H74.55M75.54,274.5H75.23M75.79,277.5H75.59M76.41,280.5H75.76M77.05,283.5H76.16M77.71,286.5H76.59M78.38,289.5H77.03M79.02,292.5H77.46M79.62,295.5H77.87M80.17,298.5H78.24M80.63,301.5H78.56M81.01,304.5H78.82M81.29,307.5H79M81.56,310.5H79.16M81.69,313.5H79.15M81.6,316.5H78.95M81.2,319.5H78.56M80.57,322.5H77.95M79.67,325.5H77.08" fill="none" stroke="#000" stroke-width="1.3" />
<rect x="64.4" y="395.5" width="7.6" height="11.4" fill="#fff" stroke="#000" stroke-width="1.3" />
<rect x="64.4" y="395.5" width="3.2" height="11.4" fill="#000" stroke="#000" stroke-width="0.6" />
<path d="M68.2,406.5 L68.3,424.5" fill="none" stroke="#000" stroke-width="2.2" />
<path d="M68.3,421.5 L68.4,444.5" fill="none" stroke="#000" stroke-width="4.8" />
<polygon points="68.6,442.5 70.11,442.65 71.47,443.1 72.69,443.84 73.75,444.88 74.68,446.22 75.46,447.86 76.1,449.79 76.59,452.02 76.95,454.55 77.17,457.38 77.83,460.6 78.5,463.72 79.17,466.77 79.84,469.77 80.47,472.75 81.07,475.73 81.61,478.74 82.08,481.79 82.46,484.91 82.74,488.13 83.11,492.3 83.01,496.41 82.48,500.38 81.57,504.12 80.33,507.52 78.8,510.51 77.02,513 75.04,514.88 72.91,516.08 70.67,516.5 67.2,516.5 64.93,516.08 62.77,514.88 60.76,513 58.96,510.51 57.4,507.52 56.14,504.12 55.21,500.38 54.68,496.41 54.57,492.3 54.95,488.13 55.19,484.91 55.54,481.79 55.97,478.74 56.47,475.73 57.04,472.75 57.65,469.77 58.29,466.77 58.96,463.72 59.62,460.6 60.28,457.38 60.48,454.55 60.8,452.02 61.26,449.79 61.86,447.86 62.6,446.22 63.49,444.88 64.53,443.84 65.72,443.1 67.08,442.65 68.6,442.5" fill="#000" stroke="#000" stroke-width="0.8" stroke-linejoin="round"/>
<polygon points="69,447.5 69.87,447.63 70.66,448.02 71.37,448.68 71.99,449.59 72.52,450.77 72.98,452.21 73.35,453.9 73.63,455.86 73.84,458.09 73.97,460.57 74.35,463.4 74.74,466.14 75.13,468.82 75.51,471.46 75.88,474.08 76.23,476.69 76.54,479.33 76.81,482.01 77.04,484.75 77.2,487.58 77.4,491.24 77.31,494.86 76.96,498.34 76.38,501.62 75.6,504.61 74.65,507.24 73.57,509.42 72.37,511.08 71.11,512.13 69.8,512.5 68.63,512.5 67.42,512.13 66.25,511.08 65.15,509.42 64.14,507.24 63.27,504.61 62.54,501.62 62,498.34 61.68,494.86 61.6,491.24 61.78,487.58 61.91,484.75 62.1,482.01 62.32,479.33 62.59,476.69 62.89,474.08 63.21,471.46 63.55,468.82 63.9,466.14 64.26,463.4 64.6,460.57 64.71,458.09 64.88,455.86 65.12,453.9 65.44,452.21 65.83,450.77 66.3,449.59 66.85,448.68 67.48,448.02 68.2,447.63 69,447.5" fill="#fff" stroke="#000" stroke-width="0.6" stroke-linejoin="round"/>
<polygon points="62.52,450.5 62.31,451.5 62.14,452.5 62.01,453.5 61.89,454.5 61.81,455.5 61.74,456.5 61.66,457.5 61.45,458.5 61.25,459.5 61.04,460.5 60.83,461.5 60.62,462.5 60.4,463.5 60.19,464.5 59.97,465.5 59.75,466.5 59.54,467.5 59.32,468.5 59.11,469.5 58.9,470.5 58.7,471.5 58.49,472.5 58.3,473.5 58.11,474.5 57.92,475.5 57.75,476.5 57.58,477.5 57.41,478.5 57.26,479.5 57.12,480.5 56.98,481.5 56.86,482.5 56.75,483.5 56.64,484.5 56.55,485.5 56.47,486.5 56.4,487.5 56.32,488.5 56.23,489.5 56.14,490.5 56.05,491.5 55.98,492.5 56.01,493.5 56.03,494.5 56.06,495.5 56.09,496.5 56.23,497.5 56.36,498.5 56.5,499.5 56.64,500.5 56.89,501.5 57.14,502.5 57.39,503.5 57.68,504.5 58.05,505.5 58.42,506.5 62.09,506.5 61.76,505.5 61.44,504.5 61.2,503.5 60.95,502.5 60.72,501.5 60.56,500.5 60.39,499.5 60.23,498.5 60.13,497.5 60.03,496.5 59.94,495.5 59.87,494.5 59.85,493.5 59.83,492.5 59.8,491.5 59.84,490.5 59.89,489.5 59.94,488.5 59.99,487.5 60.03,486.5 60.08,485.5 60.13,484.5 60.2,483.5 60.26,482.5 60.34,481.5 60.42,480.5 60.51,479.5 60.61,478.5 60.71,477.5 60.81,476.5 60.93,475.5 61.04,474.5 61.16,473.5 61.28,472.5 61.41,471.5 61.54,470.5 61.66,469.5 61.79,468.5 61.92,467.5 62.06,466.5 62.18,465.5 62.31,464.5 62.44,463.5 62.57,462.5 62.69,461.5 62.81,460.5 62.85,459.5 62.89,458.5 62.95,457.5 63.03,456.5 63.12,455.5 63.25,454.5 63.4,453.5 63.58,452.5 63.83,451.5 64.13,450.5" fill="#fff" stroke="none"/>
<path d="M62.31,451.5H63.83M61.89,454.5H63.25M61.66,457.5H62.95M61.04,460.5H62.81M60.4,463.5H62.44M59.75,466.5H62.06M59.11,469.5H61.66M58.49,472.5H61.28M57.92,475.5H60.93M57.41,478.5H60.61M56.98,481.5H60.34M56.64,484.5H60.13M56.4,487.5H59.99M56.14,490.5H59.84M56.01,493.5H59.85M56.09,496.5H60.03M56.5,499.5H60.39M57.14,502.5H60.95M58.05,505.5H61.76" fill="none" stroke="#000" stroke-width="1.3" />
<polygon points="74.86,450.5 75.08,451.5 75.26,452.5 75.4,453.5 75.54,454.5 75.62,455.5 75.7,456.5 75.79,457.5 76,458.5 76.2,459.5 76.41,460.5 76.62,461.5 76.84,462.5 77.05,463.5 77.27,464.5 77.49,465.5 77.71,466.5 77.93,467.5 78.16,468.5 78.38,469.5 78.59,470.5 78.81,471.5 79.02,472.5 79.22,473.5 79.42,474.5 79.62,475.5 79.81,476.5 79.99,477.5 80.17,478.5 80.33,479.5 80.48,480.5 80.63,481.5 80.77,482.5 80.89,483.5 81.01,484.5 81.11,485.5 81.2,486.5 81.29,487.5 81.38,488.5 81.47,489.5 81.56,490.5 81.64,491.5 81.71,492.5 81.69,493.5 81.66,494.5 81.64,495.5 81.6,496.5 81.47,497.5 81.33,498.5 81.2,499.5 81.06,500.5 80.81,501.5 80.57,502.5 80.32,503.5 80.03,504.5 79.67,505.5 79.3,506.5 76.72,506.5 77.08,505.5 77.43,504.5 77.69,503.5 77.95,502.5 78.2,501.5 78.38,500.5 78.56,499.5 78.73,498.5 78.85,497.5 78.95,496.5 79.05,495.5 79.12,494.5 79.15,493.5 79.17,492.5 79.2,491.5 79.16,490.5 79.11,489.5 79.05,488.5 79,487.5 78.94,486.5 78.88,485.5 78.82,484.5 78.73,483.5 78.65,482.5 78.56,481.5 78.46,480.5 78.36,479.5 78.24,478.5 78.13,477.5 78,476.5 77.87,475.5 77.74,474.5 77.6,473.5 77.46,472.5 77.32,471.5 77.17,470.5 77.03,469.5 76.88,468.5 76.74,467.5 76.59,466.5 76.45,465.5 76.3,464.5 76.16,463.5 76.03,462.5 75.89,461.5 75.76,460.5 75.71,459.5 75.66,458.5 75.59,457.5 75.49,456.5 75.38,455.5 75.23,454.5 75.06,453.5 74.84,452.5 74.55,451.5 74.2,450.5" fill="#fff" stroke="none"/>
<path d="M75.08,451.5H74.55M75.54,454.5H75.23M75.79,457.5H75.59M76.41,460.5H75.76M77.05,463.5H76.16M77.71,466.5H76.59M78.38,469.5H77.03M79.02,472.5H77.46M79.62,475.5H77.87M80.17,478.5H78.24M80.63,481.5H78.56M81.01,484.5H78.82M81.29,487.5H79M81.56,490.5H79.16M81.69,493.5H79.15M81.6,496.5H78.95M81.2,499.5H78.56M80.57,502.5H77.95M79.67,505.5H77.08" fill="none" stroke="#000" stroke-width="1.3" />
<rect x="64.4" y="575.5" width="7.6" height="11.4" fill="#fff" stroke="#000" stroke-width="1.3" />
<rect x="64.4" y="575.5" width="3.2" height="11.4" fill="#000" stroke="#000" stroke-width="0.6" />
<path d="M68.2,586.5 L68.3,604.5" fill="none" stroke="#000" stroke-width="2.2" />
<path d="M68.3,601.5 L68.4,624.5" fill="none" stroke="#000" stroke-width="4.8" />
<polygon points="68.6,622.5 70.11,622.65 71.47,623.1 72.69,623.84 73.75,624.88 74.68,626.22 75.46,627.86 76.1,629.79 76.59,632.02 76.95,634.55 77.17,637.38 77.83,640.6 78.5,643.72 79.17,646.77 79.84,649.77 80.47,652.75 81.07,655.73 81.61,658.74 82.08,661.79 82.46,664.91 82.74,668.13 83.11,672.3 83.01,676.41 82.48,680.38 81.57,684.12 80.33,687.52 78.8,690.51 77.02,693 75.04,694.88 72.91,696.08 70.67,696.5 67.2,696.5 64.93,696.08 62.77,694.88 60.76,693 58.96,690.51 57.4,687.52 56.14,684.12 55.21,680.38 54.68,676.41 54.57,672.3 54.95,668.13 55.19,664.91 55.54,661.79 55.97,658.74 56.47,655.73 57.04,652.75 57.65,649.77 58.29,646.77 58.96,643.72 59.62,640.6 60.28,637.38 60.48,634.55 60.8,632.02 61.26,629.79 61.86,627.86 62.6,626.22 63.49,624.88 64.53,623.84 65.72,623.1 67.08,622.65 68.6,622.5" fill="#000" stroke="#000" stroke-width="0.8" stroke-linejoin="round"/>
<polygon points="69,627.5 69.87,627.63 70.66,628.02 71.37,628.68 71.99,629.59 72.52,630.77 72.98,632.21 73.35,633.9 73.63,635.86 73.84,638.09 73.97,640.57 74.35,643.4 74.74,646.14 75.13,648.82 75.51,651.46 75.88,654.08 76.23,656.69 76.54,659.33 76.81,662.01 77.04,664.75 77.2,667.58 77.4,671.24 77.31,674.86 76.96,678.34 76.38,681.62 75.6,684.61 74.65,687.24 73.57,689.42 72.37,691.08 71.11,692.13 69.8,692.5 68.63,692.5 67.42,692.13 66.25,691.08 65.15,689.42 64.14,687.24 63.27,684.61 62.54,681.62 62,678.34 61.68,674.86 61.6,671.24 61.78,667.58 61.91,664.75 62.1,662.01 62.32,659.33 62.59,656.69 62.89,654.08 63.21,651.46 63.55,648.82 63.9,646.14 64.26,643.4 64.6,640.57 64.71,638.09 64.88,635.86 65.12,633.9 65.44,632.21 65.83,630.77 66.3,629.59 66.85,628.68 67.48,628.02 68.2,627.63 69,627.5" fill="#fff" stroke="#000" stroke-width="0.6" stroke-linejoin="round"/>
<polygon points="62.52,630.5 62.31,631.5 62.14,632.5 62.01,633.5 61.89,634.5 61.81,635.5 61.74,636.5 61.66,637.5 61.45,638.5 61.25,639.5 61.04,640.5 60.83,641.5 60.62,642.5 60.4,643.5 60.19,644.5 59.97,645.5 59.75,646.5 59.54,647.5 59.32,648.5 59.11,649.5 58.9,650.5 58.7,651.5 58.49,652.5 58.3,653.5 58.11,654.5 57.92,655.5 57.75,656.5 57.58,657.5 57.41,658.5 57.26,659.5 57.12,660.5 56.98,661.5 56.86,662.5 56.75,663.5 56.64,664.5 56.55,665.5 56.47,666.5 56.4,667.5 56.32,668.5 56.23,669.5 56.14,670.5 56.05,671.5 55.98,672.5 56.01,673.5 56.03,674.5 56.06,675.5 56.09,676.5 56.23,677.5 56.36,678.5 56.5,679.5 56.64,680.5 56.89,681.5 57.14,682.5 57.39,683.5 57.68,684.5 58.05,685.5 58.42,686.5 62.09,686.5 61.76,685.5 61.44,684.5 61.2,683.5 60.95,682.5 60.72,681.5 60.56,680.5 60.39,679.5 60.23,678.5 60.13,677.5 60.03,676.5 59.94,675.5 59.87,674.5 59.85,673.5 59.83,672.5 59.8,671.5 59.84,670.5 59.89,669.5 59.94,668.5 59.99,667.5 60.03,666.5 60.08,665.5 60.13,664.5 60.2,663.5 60.26,662.5 60.34,661.5 60.42,660.5 60.51,659.5 60.61,658.5 60.71,657.5 60.81,656.5 60.93,655.5 61.04,654.5 61.16,653.5 61.28,652.5 61.41,651.5 61.54,650.5 61.66,649.5 61.79,648.5 61.92,647.5 62.06,646.5 62.18,645.5 62.31,644.5 62.44,643.5 62.57,642.5 62.69,641.5 62.81,640.5 62.85,639.5 62.89,638.5 62.95,637.5 63.03,636.5 63.12,635.5 63.25,634.5 63.4,633.5 63.58,632.5 63.83,631.5 64.13,630.5" fill="#fff" stroke="none"/>
<path d="M62.31,631.5H63.83M61.89,634.5H63.25M61.66,637.5H62.95M61.04,640.5H62.81M60.4,643.5H62.44M59.75,646.5H62.06M59.11,649.5H61.66M58.49,652.5H61.28M57.92,655.5H60.93M57.41,658.5H60.61M56.98,661.5H60.34M56.64,664.5H60.13M56.4,667.5H59.99M56.14,670.5H59.84M56.01,673.5H59.85M56.09,676.5H60.03M56.5,679.5H60.39M57.14,682.5H60.95M58.05,685.5H61.76" fill="none" stroke="#000" stroke-width="1.3" />
<polygon points="74.86,630.5 75.08,631.5 75.26,632.5 75.4,633.5 75.54,634.5 75.62,635.5 75.7,636.5 75.79,637.5 76,638.5 76.2,639.5 76.41,640.5 76.62,641.5 76.84,642.5 77.05,643.5 77.27,644.5 77.49,645.5 77.71,646.5 77.93,647.5 78.16,648.5 78.38,649.5 78.59,650.5 78.81,651.5 79.02,652.5 79.22,653.5 79.42,654.5 79.62,655.5 79.81,656.5 79.99,657.5 80.17,658.5 80.33,659.5 80.48,660.5 80.63,661.5 80.77,662.5 80.89,663.5 81.01,664.5 81.11,665.5 81.2,666.5 81.29,667.5 81.38,668.5 81.47,669.5 81.56,670.5 81.64,671.5 81.71,672.5 81.69,673.5 81.66,674.5 81.64,675.5 81.6,676.5 81.47,677.5 81.33,678.5 81.2,679.5 81.06,680.5 80.81,681.5 80.57,682.5 80.32,683.5 80.03,684.5 79.67,685.5 79.3,686.5 76.72,686.5 77.08,685.5 77.43,684.5 77.69,683.5 77.95,682.5 78.2,681.5 78.38,680.5 78.56,679.5 78.73,678.5 78.85,677.5 78.95,676.5 79.05,675.5 79.12,674.5 79.15,673.5 79.17,672.5 79.2,671.5 79.16,670.5 79.11,669.5 79.05,668.5 79,667.5 78.94,666.5 78.88,665.5 78.82,664.5 78.73,663.5 78.65,662.5 78.56,661.5 78.46,660.5 78.36,659.5 78.24,658.5 78.13,657.5 78,656.5 77.87,655.5 77.74,654.5 77.6,653.5 77.46,652.5 77.32,651.5 77.17,650.5 77.03,649.5 76.88,648.5 76.74,647.5 76.59,646.5 76.45,645.5 76.3,644.5 76.16,643.5 76.03,642.5 75.89,641.5 75.76,640.5 75.71,639.5 75.66,638.5 75.59,637.5 75.49,636.5 75.38,635.5 75.23,634.5 75.06,633.5 74.84,632.5 74.55,631.5 74.2,630.5" fill="#fff" stroke="none"/>
<path d="M75.08,631.5H74.55M75.54,634.5H75.23M75.79,637.5H75.59M76.41,640.5H75.76M77.05,643.5H76.16M77.71,646.5H76.59M78.38,649.5H77.03M79.02,652.5H77.46M79.62,655.5H77.87M80.17,658.5H78.24M80.63,661.5H78.56M81.01,664.5H78.82M81.29,667.5H79M81.56,670.5H79.16M81.69,673.5H79.15M81.6,676.5H78.95M81.2,679.5H78.56M80.57,682.5H77.95M79.67,685.5H77.08" fill="none" stroke="#000" stroke-width="1.3" />
<rect x="41.6" y="123" width="7" height="10.2" fill="#fff" stroke="#000" stroke-width="1.3" />
<rect x="41.4" y="123" width="3.2" height="10.5" fill="#000" stroke="#000" stroke-width="0.6" />
<path d="M43.2,132.5 L44.6,174.5" fill="none" stroke="#000" stroke-width="4.6" />
<path d="M44.6,168.5 C51,170.5 53.4,182.5 54.2,196.5 L55.4,228.5 C55.6,239.5 52,244.1 45.5,244.1 C39.5,244.1 36,239.5 35.8,228.5 L35.6,196.5 C35.8,182.5 38.5,170.5 44.6,168.5 Z" fill="none" stroke="#000" stroke-width="2.4" />
<path d="M46.8,178.5 C48.6,186.5 48.8,202.5 49,218.5 L49,232.5 C49,239.5 45,239.5 45,232.5 L44.8,202.5 C44.8,186.5 45.4,178.5 46.8,178.5 Z" fill="none" stroke="#000" stroke-width="1.9" />
<path d="M36.6,180.5h7.6M36.6,183.6h7.6M36.6,186.7h7.6M36.6,189.8h7.6M36.6,192.9h7.6M36.6,196h7.6M36.6,199.1h7.6M36.6,202.2h7.6M36.6,205.3h7.6M36.6,208.4h7.6M36.6,211.5h7.6M36.6,214.6h7.6M36.6,217.7h7.6M36.6,220.8h7.6M36.6,223.9h7.6M36.6,227h7.6M36.6,230.1h7.6M36.6,233.2h7.6M36.6,236.3h7.6" fill="none" stroke="#000" stroke-width="1.25" />
<path d="M49.81,184.5h4.6M49.82,187.6h4.6M49.83,190.7h4.6M49.84,193.8h4.6M49.85,196.9h4.6M49.86,200h4.6M49.87,203.1h4.6M49.88,206.2h4.6M49.9,209.3h4.6M49.91,212.4h4.6M49.92,215.5h4.6M49.93,218.6h4.6M49.94,221.7h4.6M49.95,224.8h4.6M49.96,227.9h4.6M49.97,231h4.6M49.98,234.1h4.6M50,237.2h4.6" fill="none" stroke="#000" stroke-width="1.25" />
<path d="M40.4,178.5 L40.2,240.5" fill="none" stroke="#000" stroke-width="1.0" />
<rect x="41.6" y="303" width="7" height="10.2" fill="#fff" stroke="#000" stroke-width="1.3" />
<rect x="41.4" y="303" width="3.2" height="10.5" fill="#000" stroke="#000" stroke-width="0.6" />
<path d="M43.2,312.5 L44.6,354.5" fill="none" stroke="#000" stroke-width="4.6" />
<path d="M44.6,348.5 C51,350.5 53.4,362.5 54.2,376.5 L55.4,408.5 C55.6,419.5 52,424.1 45.5,424.1 C39.5,424.1 36,419.5 35.8,408.5 L35.6,376.5 C35.8,362.5 38.5,350.5 44.6,348.5 Z" fill="none" stroke="#000" stroke-width="2.4" />
<path d="M46.8,358.5 C48.6,366.5 48.8,382.5 49,398.5 L49,412.5 C49,419.5 45,419.5 45,412.5 L44.8,382.5 C44.8,366.5 45.4,358.5 46.8,358.5 Z" fill="none" stroke="#000" stroke-width="1.9" />
<path d="M36.6,360.5h7.6M36.6,363.6h7.6M36.6,366.7h7.6M36.6,369.8h7.6M36.6,372.9h7.6M36.6,376h7.6M36.6,379.1h7.6M36.6,382.2h7.6M36.6,385.3h7.6M36.6,388.4h7.6M36.6,391.5h7.6M36.6,394.6h7.6M36.6,397.7h7.6M36.6,400.8h7.6M36.6,403.9h7.6M36.6,407h7.6M36.6,410.1h7.6M36.6,413.2h7.6M36.6,416.3h7.6" fill="none" stroke="#000" stroke-width="1.25" />
<path d="M49.81,364.5h4.6M49.82,367.6h4.6M49.83,370.7h4.6M49.84,373.8h4.6M49.85,376.9h4.6M49.86,380h4.6M49.87,383.1h4.6M49.88,386.2h4.6M49.9,389.3h4.6M49.91,392.4h4.6M49.92,395.5h4.6M49.93,398.6h4.6M49.94,401.7h4.6M49.95,404.8h4.6M49.96,407.9h4.6M49.97,411h4.6M49.98,414.1h4.6M50,417.2h4.6" fill="none" stroke="#000" stroke-width="1.25" />
<path d="M40.4,358.5 L40.2,420.5" fill="none" stroke="#000" stroke-width="1.0" />
<rect x="41.6" y="483" width="7" height="10.2" fill="#fff" stroke="#000" stroke-width="1.3" />
<rect x="41.4" y="483" width="3.2" height="10.5" fill="#000" stroke="#000" stroke-width="0.6" />
<path d="M43.2,492.5 L44.6,534.5" fill="none" stroke="#000" stroke-width="4.6" />
<path d="M44.6,528.5 C51,530.5 53.4,542.5 54.2,556.5 L55.4,588.5 C55.6,599.5 52,604.1 45.5,604.1 C39.5,604.1 36,599.5 35.8,588.5 L35.6,556.5 C35.8,542.5 38.5,530.5 44.6,528.5 Z" fill="none" stroke="#000" stroke-width="2.4" />
<path d="M46.8,538.5 C48.6,546.5 48.8,562.5 49,578.5 L49,592.5 C49,599.5 45,599.5 45,592.5 L44.8,562.5 C44.8,546.5 45.4,538.5 46.8,538.5 Z" fill="none" stroke="#000" stroke-width="1.9" />
<path d="M36.6,540.5h7.6M36.6,543.6h7.6M36.6,546.7h7.6M36.6,549.8h7.6M36.6,552.9h7.6M36.6,556h7.6M36.6,559.1h7.6M36.6,562.2h7.6M36.6,565.3h7.6M36.6,568.4h7.6M36.6,571.5h7.6M36.6,574.6h7.6M36.6,577.7h7.6M36.6,580.8h7.6M36.6,583.9h7.6M36.6,587h7.6M36.6,590.1h7.6M36.6,593.2h7.6M36.6,596.3h7.6" fill="none" stroke="#000" stroke-width="1.25" />
<path d="M49.81,544.5h4.6M49.82,547.6h4.6M49.83,550.7h4.6M49.84,553.8h4.6M49.85,556.9h4.6M49.86,560h4.6M49.87,563.1h4.6M49.88,566.2h4.6M49.9,569.3h4.6M49.91,572.4h4.6M49.92,575.5h4.6M49.93,578.6h4.6M49.94,581.7h4.6M49.95,584.8h4.6M49.96,587.9h4.6M49.97,591h4.6M49.98,594.1h4.6M50,597.2h4.6" fill="none" stroke="#000" stroke-width="1.25" />
<path d="M40.4,538.5 L40.2,600.5" fill="none" stroke="#000" stroke-width="1.0" />
<path d="M35.8,33.5 C31.6,35.5 31.5,40.5 31.9,48.5 C32.3,53.5 34.6,58.5 36.8,63.5 L37.8,86.5" fill="none" stroke="#000" stroke-width="3.3" />
<path d="M41.4,34 C45,35.5 44.9,42.5 43.8,48.5" fill="none" stroke="#000" stroke-width="3.2" />
<path d="M43.8,47.5 L41.6,66.5" fill="none" stroke="#000" stroke-width="1.3" />
<path d="M37.6,68.5 L38.2,88.5" fill="none" stroke="#000" stroke-width="3.8" />
<path d="M34.9,82.5 L34.9,155.5" fill="none" stroke="#000" stroke-width="2.8" />
<path d="M38.8,86.5 L38.8,155.5" fill="none" stroke="#000" stroke-width="1.2" />
<path d="M35.8,88.5h3M35.8,91.7h3M35.8,94.9h3M35.8,98.1h3M35.8,101.3h3M35.8,104.5h3M35.8,107.7h3M35.8,110.9h3M35.8,114.1h3M35.8,117.3h3M35.8,120.5h3M35.8,123.7h3M35.8,126.9h3M35.8,130.1h3M35.8,133.3h3M35.8,136.5h3M35.8,139.7h3M35.8,142.9h3M35.8,146.1h3M35.8,149.3h3M35.8,152.5h3" fill="none" stroke="#000" stroke-width="1.3" />
<path d="M32.2,143.5h3.4" fill="none" stroke="#000" stroke-width="3.6" />
<path d="M34.8,80.5 L34.8,94.5" fill="none" stroke="#000" stroke-width="3.8" />
<path d="M36.2,155.5 L36.4,169.5" fill="none" stroke="#000" stroke-width="2.4" />
<path d="M35.8,213.5 C31.6,215.5 31.5,220.5 31.9,228.5 C32.3,233.5 34.6,238.5 36.8,243.5 L37.8,266.5" fill="none" stroke="#000" stroke-width="3.3" />
<path d="M41.4,214 C45,215.5 44.9,222.5 43.8,228.5" fill="none" stroke="#000" stroke-width="3.2" />
<path d="M43.8,227.5 L41.6,246.5" fill="none" stroke="#000" stroke-width="1.3" />
<path d="M37.6,248.5 L38.2,268.5" fill="none" stroke="#000" stroke-width="3.8" />
<path d="M34.9,262.5 L34.9,335.5" fill="none" stroke="#000" stroke-width="2.8" />
<path d="M38.8,266.5 L38.8,335.5" fill="none" stroke="#000" stroke-width="1.2" />
<path d="M35.8,268.5h3M35.8,271.7h3M35.8,274.9h3M35.8,278.1h3M35.8,281.3h3M35.8,284.5h3M35.8,287.7h3M35.8,290.9h3M35.8,294.1h3M35.8,297.3h3M35.8,300.5h3M35.8,303.7h3M35.8,306.9h3M35.8,310.1h3M35.8,313.3h3M35.8,316.5h3M35.8,319.7h3M35.8,322.9h3M35.8,326.1h3M35.8,329.3h3M35.8,332.5h3" fill="none" stroke="#000" stroke-width="1.3" />
<path d="M32.2,323.5h3.4" fill="none" stroke="#000" stroke-width="3.6" />
<path d="M34.8,260.5 L34.8,274.5" fill="none" stroke="#000" stroke-width="3.8" />
<path d="M36.2,335.5 L36.4,349.5" fill="none" stroke="#000" stroke-width="2.4" />
<path d="M35.8,393.5 C31.6,395.5 31.5,400.5 31.9,408.5 C32.3,413.5 34.6,418.5 36.8,423.5 L37.8,446.5" fill="none" stroke="#000" stroke-width="3.3" />
<path d="M41.4,394 C45,395.5 44.9,402.5 43.8,408.5" fill="none" stroke="#000" stroke-width="3.2" />
<path d="M43.8,407.5 L41.6,426.5" fill="none" stroke="#000" stroke-width="1.3" />
<path d="M37.6,428.5 L38.2,448.5" fill="none" stroke="#000" stroke-width="3.8" />
<path d="M34.9,442.5 L34.9,515.5" fill="none" stroke="#000" stroke-width="2.8" />
<path d="M38.8,446.5 L38.8,515.5" fill="none" stroke="#000" stroke-width="1.2" />
<path d="M35.8,448.5h3M35.8,451.7h3M35.8,454.9h3M35.8,458.1h3M35.8,461.3h3M35.8,464.5h3M35.8,467.7h3M35.8,470.9h3M35.8,474.1h3M35.8,477.3h3M35.8,480.5h3M35.8,483.7h3M35.8,486.9h3M35.8,490.1h3M35.8,493.3h3M35.8,496.5h3M35.8,499.7h3M35.8,502.9h3M35.8,506.1h3M35.8,509.3h3M35.8,512.5h3" fill="none" stroke="#000" stroke-width="1.3" />
<path d="M32.2,503.5h3.4" fill="none" stroke="#000" stroke-width="3.6" />
<path d="M34.8,440.5 L34.8,454.5" fill="none" stroke="#000" stroke-width="3.8" />
<path d="M36.2,515.5 L36.4,529.5" fill="none" stroke="#000" stroke-width="2.4" />
<path d="M35.8,573.5 C31.6,575.5 31.5,580.5 31.9,588.5 C32.3,593.5 34.6,598.5 36.8,603.5 L37.8,626.5" fill="none" stroke="#000" stroke-width="3.3" />
<path d="M41.4,574 C45,575.5 44.9,582.5 43.8,588.5" fill="none" stroke="#000" stroke-width="3.2" />
<path d="M43.8,587.5 L41.6,606.5" fill="none" stroke="#000" stroke-width="1.3" />
<path d="M37.6,608.5 L38.2,628.5" fill="none" stroke="#000" stroke-width="3.8" />
<path d="M34.9,622.5 L34.9,695.5" fill="none" stroke="#000" stroke-width="2.8" />
<path d="M38.8,626.5 L38.8,695.5" fill="none" stroke="#000" stroke-width="1.2" />
<path d="M35.8,628.5h3M35.8,631.7h3M35.8,634.9h3M35.8,638.1h3M35.8,641.3h3M35.8,644.5h3M35.8,647.7h3M35.8,650.9h3M35.8,654.1h3M35.8,657.3h3M35.8,660.5h3M35.8,663.7h3M35.8,666.9h3M35.8,670.1h3M35.8,673.3h3M35.8,676.5h3M35.8,679.7h3M35.8,682.9h3M35.8,686.1h3M35.8,689.3h3M35.8,692.5h3" fill="none" stroke="#000" stroke-width="1.3" />
<path d="M32.2,683.5h3.4" fill="none" stroke="#000" stroke-width="3.6" />
<path d="M34.8,620.5 L34.8,634.5" fill="none" stroke="#000" stroke-width="3.8" />
<path d="M36.2,695.5 L36.4,709.5" fill="none" stroke="#000" stroke-width="2.4" />
</g>
<g id="lamp">
<rect x="413.8" y="112.4" width="31.3" height="559.8" fill="#fff" stroke="#000" stroke-width="1.9" />
<line x1="419" y1="116.5" x2="419" y2="668.5" stroke="#000" stroke-width="1.7" stroke-dasharray="1.3 2.74"/>
<line x1="421" y1="116.6" x2="443.5" y2="116.6" stroke="#000" stroke-width="1.2" stroke-dasharray="1.2 2.9"/>
<line x1="421" y1="668" x2="443.5" y2="668" stroke="#000" stroke-width="1.2" stroke-dasharray="1.2 2.9"/>
<circle cx="429.7" cy="212.7" r="7.2" fill="#fff" stroke="#000" stroke-width="1.4" />
<path d="M422.5,212.7h14.4M429.7,205.5v14.4" fill="none" stroke="#000" stroke-width="0.9" />
<path d="M425.5,206.7v12M433.9,206.7v12M423.7,208.9h12M423.7,216.5h12" fill="none" stroke="#555" stroke-width="0.6" />
<circle cx="429.7" cy="212.7" r="1.6" fill="none" stroke="#000" stroke-width="1.0" />
<circle cx="429.7" cy="571.7" r="7.2" fill="#fff" stroke="#000" stroke-width="1.4" />
<path d="M422.5,571.7h14.4M429.7,564.5v14.4" fill="none" stroke="#000" stroke-width="0.9" />
<path d="M425.5,565.7v12M433.9,565.7v12M423.7,567.9h12M423.7,575.5h12" fill="none" stroke="#555" stroke-width="0.6" />
<circle cx="429.7" cy="571.7" r="1.6" fill="none" stroke="#000" stroke-width="1.0" />
<path d="M365.3,174.1 C352.3,174.1 339.2,235 339.2,248.5 C339.2,268 345.5,287 353.2,295.6 M365.3,174.1 C378.3,174.1 391.4,235 391.4,248.5 C391.4,268 385.1,287 377.4,295.6" fill="none" stroke="#000" stroke-width="1.4" />
<path d="M365.3,174.1 C352.3,174.1 339.2,235 339.2,248.5 C339.2,268 345.5,287 353.2,295.6 M365.3,174.1 C378.3,174.1 391.4,235 391.4,248.5 C391.4,268 385.1,287 377.4,295.6" fill="none" stroke="#111" stroke-width="3.2" stroke-dasharray="1.0 3.0"/>
<path d="M361.8,266.2h7.3M361.8,270.23h7.3M361.8,274.26h7.3M361.8,278.29h7.3M361.8,282.32h7.3M361.8,286.35h7.3M361.8,290.38h7.3" fill="none" stroke="#000" stroke-width="1.3" />
<path d="M361.6,286.4h8.6M361,290.4h9.4M364.5,292v3.5M368.5,288v7" fill="none" stroke="#111" stroke-width="1.1" stroke-dasharray="1.6 1.2"/>
<path d="M364.1,246.3h3.2M357,250.5h3M364.1,250.5h3.2M359.3,254.3h1.8M364.1,254.3h2.8" fill="none" stroke="#111" stroke-width="1.2" />
<path d="M356.6,243v3.4M355.4,246.3h2.6" fill="none" stroke="#111" stroke-width="1.2" />
<path d="M361.5,258.4h9M361.5,261h7M361.5,263.4h9" fill="none" stroke="#222" stroke-width="1.1" stroke-dasharray="1.2 1.3"/>
<path d="M364.4,257.5v6.5M367.2,259v4" fill="none" stroke="#222" stroke-width="1.0" stroke-dasharray="1.5 1"/>
<rect x="344.6" y="295.8" width="42" height="71" fill="#fff" stroke="#000" stroke-width="1.6" rx="1.2"/>
<path d="M346.2,299.8h39.4M346.2,303.85h39.4M346.2,307.9h39.4M346.2,311.95h39.4M346.2,316h39.4M346.2,320.05h7.4M372,320.05h13.6M346.2,324.1h7.4M372,324.1h13.6M346.2,328.15h7.4M372,328.15h13.6M346.2,332.2h7.4M372,332.2h13.6M346.2,336.25h7.4M372,336.25h13.6M346.2,340.3h7.4M372,340.3h13.6M346.2,344.35h7.4M372,344.35h13.6M346.2,348.4h7.4M372,348.4h13.6M346.2,352.45h39.4M346.2,356.5h39.4M346.2,360.55h39.4M346.2,364.6h39.4" fill="none" stroke="#000" stroke-width="1.3" stroke-dasharray="2.3 1.6"/>
<line x1="374.7" y1="296" x2="374.7" y2="366.5" stroke="#000" stroke-width="0.9" />
<path d="M358.3,302v18M360.8,302v14M365.2,302v20M368.4,302v18M372.6,302v16" fill="none" stroke="#000" stroke-width="0.9" />
<path d="M356,302h18" fill="none" stroke="#000" stroke-width="0.9" />
<path d="M355,354h20M356,362.6h18" fill="none" stroke="#111" stroke-width="1.0" />
<path d="M352,367 L351.2,370 L352,373.6 M379.4,367 L380.2,370 L379.4,373.6" fill="none" stroke="#000" stroke-width="1.2" />
<path d="M352,369h27.4M352,371.6h27.4" fill="none" stroke="#111" stroke-width="1.0" stroke-dasharray="2.4 1.4"/>
<line x1="365.3" y1="366.8" x2="365.3" y2="374" stroke="#000" stroke-width="1.2" />
<g transform="translate(0,784.6) scale(1,-1)">
<path d="M365.3,174.1 C352.3,174.1 339.2,235 339.2,248.5 C339.2,268 345.5,287 353.2,295.6 M365.3,174.1 C378.3,174.1 391.4,235 391.4,248.5 C391.4,268 385.1,287 377.4,295.6" fill="none" stroke="#000" stroke-width="1.4" />
<path d="M365.3,174.1 C352.3,174.1 339.2,235 339.2,248.5 C339.2,268 345.5,287 353.2,295.6 M365.3,174.1 C378.3,174.1 391.4,235 391.4,248.5 C391.4,268 385.1,287 377.4,295.6" fill="none" stroke="#111" stroke-width="3.2" stroke-dasharray="1.0 3.0"/>
<path d="M361.8,266.2h7.3M361.8,270.23h7.3M361.8,274.26h7.3M361.8,278.29h7.3M361.8,282.32h7.3M361.8,286.35h7.3M361.8,290.38h7.3" fill="none" stroke="#000" stroke-width="1.3" />
<path d="M361.6,286.4h8.6M361,290.4h9.4M364.5,292v3.5M368.5,288v7" fill="none" stroke="#111" stroke-width="1.1" stroke-dasharray="1.6 1.2"/>
<path d="M364.1,246.3h3.2M357,250.5h3M364.1,250.5h3.2M359.3,254.3h1.8M364.1,254.3h2.8" fill="none" stroke="#111" stroke-width="1.2" />
<path d="M356.6,243v3.4M355.4,246.3h2.6" fill="none" stroke="#111" stroke-width="1.2" />
<path d="M361.5,258.4h9M361.5,261h7M361.5,263.4h9" fill="none" stroke="#222" stroke-width="1.1" stroke-dasharray="1.2 1.3"/>
<path d="M364.4,257.5v6.5M367.2,259v4" fill="none" stroke="#222" stroke-width="1.0" stroke-dasharray="1.5 1"/>
<rect x="344.6" y="295.8" width="42" height="71" fill="#fff" stroke="#000" stroke-width="1.6" rx="1.2"/>
<path d="M346.2,299.8h39.4M346.2,303.85h39.4M346.2,307.9h39.4M346.2,311.95h39.4M346.2,316h39.4M346.2,320.05h7.4M372,320.05h13.6M346.2,324.1h7.4M372,324.1h13.6M346.2,328.15h7.4M372,328.15h13.6M346.2,332.2h7.4M372,332.2h13.6M346.2,336.25h7.4M372,336.25h13.6M346.2,340.3h7.4M372,340.3h13.6M346.2,344.35h7.4M372,344.35h13.6M346.2,348.4h7.4M372,348.4h13.6M346.2,352.45h39.4M346.2,356.5h39.4M346.2,360.55h39.4M346.2,364.6h39.4" fill="none" stroke="#000" stroke-width="1.3" stroke-dasharray="2.3 1.6"/>
<line x1="374.7" y1="296" x2="374.7" y2="366.5" stroke="#000" stroke-width="0.9" />
<path d="M358.3,302v18M360.8,302v14M365.2,302v20M368.4,302v18M372.6,302v16" fill="none" stroke="#000" stroke-width="0.9" />
<path d="M356,302h18" fill="none" stroke="#000" stroke-width="0.9" />
<path d="M355,354h20M356,362.6h18" fill="none" stroke="#111" stroke-width="1.0" />
<path d="M352,367 L351.2,370 L352,373.6 M379.4,367 L380.2,370 L379.4,373.6" fill="none" stroke="#000" stroke-width="1.2" />
<path d="M352,369h27.4M352,371.6h27.4" fill="none" stroke="#111" stroke-width="1.0" stroke-dasharray="2.4 1.4"/>
<line x1="365.3" y1="366.8" x2="365.3" y2="374" stroke="#000" stroke-width="1.2" />
</g>
<rect x="384.4" y="377.4" width="29.4" height="29.9" fill="#fff" stroke="#000" stroke-width="1.5" />
<path d="M388.5,385.2h24M388.5,399.8h24" fill="none" stroke="#111" stroke-width="3.0" stroke-dasharray="1.1 3.1"/>
<path d="M386,378.6h27M386,406.2h27" fill="none" stroke="#111" stroke-width="1.0" stroke-dasharray="1.4 1.6"/>
<path d="M412.4,383.5v3.4M412.4,398v3.4" fill="none" stroke="#000" stroke-width="2.0" />
<line x1="384.4" y1="392.3" x2="413.8" y2="392.3" stroke="#000" stroke-width="1.3" />
<path d="M415.5,380h12M415.5,385h14M415.5,390h10M415.5,395h14M415.5,400h14M415.5,405h12" fill="none" stroke="#222" stroke-width="1.0" stroke-dasharray="1.6 1.6"/>
<path d="M417.5,386v14M420.8,382v22" fill="none" stroke="#111" stroke-width="1.0" />
<rect x="347.4" y="373.7" width="37" height="37.4" fill="#fff" stroke="#000" stroke-width="1.6" />
<line x1="365.3" y1="373.7" x2="365.3" y2="411.1" stroke="#000" stroke-width="1.5" />
<path d="M365.9,384 Q363.6,392.3 365.9,400.6" fill="none" stroke="#000" stroke-width="1.8" />
<path d="M369,383v19M372.5,382v21M376,383v19" fill="none" stroke="#000" stroke-width="0.9" />
<path d="M380.6,386 L382.6,392.3 L380.6,398.6 Z" fill="#000" stroke="#000" stroke-width="0.9" />
<path d="M354,384h9M354,389h9M354,394.5h9M354,400h9 M377,385h6M377,399.5h6" fill="none" stroke="#222" stroke-width="1.0" stroke-dasharray="1.6 1.8"/>
</g>
<g id="mount">
<line x1="529.5" y1="323.2" x2="540" y2="323.2" stroke="#000" stroke-width="1.2" />
<line x1="548.2" y1="323.2" x2="734" y2="323.2" stroke="#000" stroke-width="1.2" stroke-dasharray="7.9 8.5"/>
<line x1="548.2" y1="324.1" x2="734" y2="324.1" stroke="#222" stroke-width="1.0" stroke-dasharray="1 15.4" stroke-dashoffset="-5"/>
<line x1="529.5" y1="461.3" x2="540" y2="461.3" stroke="#000" stroke-width="1.2" />
<line x1="548.2" y1="461.3" x2="734" y2="461.3" stroke="#000" stroke-width="1.2" stroke-dasharray="7.9 8.5"/>
<line x1="548.2" y1="462.2" x2="734" y2="462.2" stroke="#222" stroke-width="1.0" stroke-dasharray="1 15.4" stroke-dashoffset="-5"/>
<path d="M427,392.8 L445,393" fill="none" stroke="#aaa" stroke-width="1.4" />
<path d="M445,393 C470,396 500,399.5 527,400 C560,400.5 590,386 634,384.3" fill="none" stroke="#2b2b2b" stroke-width="2.9" />
<path d="M445,393 C470,396 500,399.5 527,400 C560,400.5 590,386 634,384.3" fill="none" stroke="#a8a8a8" stroke-width="0.8" />
<path d="M560,397 C585,393 600,393.5 625,393.6" fill="none" stroke="#2b2b2b" stroke-width="2.7" />
<path d="M560,397 C585,393 600,393.5 625,393.6" fill="none" stroke="#a8a8a8" stroke-width="0.7" />
<path d="M654,384.6 C690,385 710,386.5 733.6,387.2" fill="none" stroke="#2b2b2b" stroke-width="2.9" />
<path d="M654,384.6 C690,385 710,386.5 733.6,387.2" fill="none" stroke="#a8a8a8" stroke-width="0.8" />
<path d="M644,391.6 C680,392.5 710,394.5 733.6,395.4" fill="none" stroke="#2b2b2b" stroke-width="2.9" />
<path d="M644,391.6 C680,392.5 710,394.5 733.6,395.4" fill="none" stroke="#a8a8a8" stroke-width="0.8" />
<line x1="734" y1="387.2" x2="761" y2="387.6" stroke="#aaa" stroke-width="2.0" />
<line x1="736" y1="387.3" x2="761" y2="387.6" stroke="#555" stroke-width="2.0" stroke-dasharray="1 2.6"/>
<line x1="734" y1="395.4" x2="765.5" y2="395.8" stroke="#aaa" stroke-width="2.0" />
<line x1="736" y1="395.5" x2="765.5" y2="395.8" stroke="#555" stroke-width="2.0" stroke-dasharray="1 2.6"/>
<rect x="625.2" y="387.4" width="18.6" height="9.4" fill="#fff" stroke="#000" stroke-width="1.7" />
<line x1="634" y1="390" x2="634" y2="396" stroke="#000" stroke-width="1.2" />
<line x1="638" y1="391" x2="642" y2="391" stroke="#000" stroke-width="1.0" />
<line x1="627" y1="391" x2="631" y2="391" stroke="#000" stroke-width="1.0" />
<rect x="635.5" y="376" width="18.4" height="11.8" fill="#fff" stroke="#000" stroke-width="2.3" />
<path d="M638,380h4M645,380h5M638,383h3M644,383h6M638,385.6h5M646,385.6h4" fill="none" stroke="#777" stroke-width="1.2" />
<path d="M641,378.5v7M647.5,378.5v7" fill="none" stroke="#888" stroke-width="1.0" />
<path d="M660.9,119 L660.9,205 M660.9,221 L660.9,563.8 M660.9,579.8 L660.9,665.5" fill="none" stroke="#000" stroke-width="1.8" />
<path d="M664.1,119 L664.1,665.5" fill="none" stroke="#000" stroke-width="1.8" />
<path d="M660.7,119.5 Q662.5,117 664.4,119.5" fill="none" stroke="#000" stroke-width="1.4" />
<path d="M660.7,665 Q662.5,667.5 664.4,665" fill="none" stroke="#000" stroke-width="1.4" />
<path d="M660.7,205 H638.7 V221 H660.7" fill="none" stroke="#000" stroke-width="1.5" />
<circle cx="648.3" cy="213.2" r="2.3" fill="none" stroke="#000" stroke-width="1.6" />
<path d="M659.2,209v1M659.2,213v1M659.2,217v1" fill="none" stroke="#444" stroke-width="1.0" />
<path d="M660.7,563.8 H638.7 V579.8 H660.7" fill="none" stroke="#000" stroke-width="1.5" />
<circle cx="648.3" cy="572" r="2.3" fill="none" stroke="#000" stroke-width="1.6" />
<path d="M659.2,567.8v1M659.2,571.8v1M659.2,575.8v1" fill="none" stroke="#444" stroke-width="1.0" />
<path d="M662.5,300v40M662.5,430v60" fill="none" stroke="#555" stroke-width="0.8" stroke-dasharray="3 2"/>
<rect x="512.3" y="319.1" width="16.4" height="8.4" fill="#fff" stroke="#000" stroke-width="1.7" />
<line x1="528.2" y1="318.7" x2="528.2" y2="327.9" stroke="#000" stroke-width="2.4" />
<path d="M514.5,320.7h12M514.5,325.9h12" fill="none" stroke="#222" stroke-width="1.2" stroke-dasharray="1.6 1.4"/>
<path d="M512.3,317.7 H510 Q507,318.1 507,320.8 V325.8 Q507,328.5 510,328.9 H512.3 Z" fill="#fff" stroke="#000" stroke-width="1.7" />
<path d="M507.4,321.5h4.6M507.4,325.1h4.6" fill="none" stroke="#000" stroke-width="1.0" />
<rect x="512.3" y="457.2" width="16.4" height="8.4" fill="#fff" stroke="#000" stroke-width="1.7" />
<line x1="528.2" y1="456.8" x2="528.2" y2="466" stroke="#000" stroke-width="2.4" />
<path d="M514.5,458.8h12M514.5,464h12" fill="none" stroke="#222" stroke-width="1.2" stroke-dasharray="1.6 1.4"/>
<path d="M512.3,455.8 H510 Q507,456.2 507,458.9 V463.9 Q507,466.6 510,467 H512.3 Z" fill="#fff" stroke="#000" stroke-width="1.7" />
<path d="M507.4,459.6h4.6M507.4,463.2h4.6" fill="none" stroke="#000" stroke-width="1.0" />
<line x1="733.6" y1="311" x2="733.6" y2="474.4" stroke="#000" stroke-width="1.8" />
<path d="M733.6,311.6 H821.2 V473.8 H733.6" fill="none" stroke="#000" stroke-width="1.2" />
<line x1="735.6" y1="313.2" x2="821.2" y2="313.2" stroke="#222" stroke-width="2.2" stroke-dasharray="1.1 2.8"/>
<line x1="735.6" y1="472.2" x2="821.2" y2="472.2" stroke="#222" stroke-width="2.2" stroke-dasharray="1.1 2.8"/>
<line x1="819.6" y1="313.6" x2="819.6" y2="471.8" stroke="#222" stroke-width="2.2" stroke-dasharray="1.1 2.8"/>
<path d="M735.6,317.4h5.8M735.6,321.4h5.8M735.6,325.4h5.8M735.6,329.4h5.8M735.6,333.4h5.8M735.6,337.4h5.8M735.6,341.4h5.8M735.6,469.2h5.8M735.6,465.3h5.8M735.6,461.4h5.8M735.6,457.5h5.8M735.6,453.6h5.8M735.6,449.7h5.8" fill="none" stroke="#111" stroke-width="1.2" stroke-dasharray="1.7 1.3"/>
<path d="M744.4,323.8h9.5M744.4,461.2h9.5" fill="none" stroke="#111" stroke-width="1.3" stroke-dasharray="1.3 2.6"/>
<path d="M761.26,332.89 A28.2,28.2 0 1 1 751.78,342.7" fill="none" stroke="#000" stroke-width="1.7" />
<path d="M761.26,403.49 A28.2,28.2 0 1 1 751.78,413.3" fill="none" stroke="#000" stroke-width="1.7" />
<polygon points="747,376 745.5,378.6 742.5,378.6 741,376 742.5,373.4 745.5,373.4" fill="none" stroke="#000" stroke-width="1.3" />
<polygon points="747,408.6 745.5,411.2 742.5,411.2 741,408.6 742.5,406 745.5,406" fill="none" stroke="#000" stroke-width="1.3" />
<path d="M734,445 L739,445.5 L740.5,451 L738,452 L734,452" fill="none" stroke="#000" stroke-width="1.3" />
<path d="M815.5,411H819.5M811.85,414.9H819.5M808.49,418.8H819.5M805.69,422.7H819.5M803.69,426.6H819.5M802.64,430.5H819.5M802.63,434.4H819.5M803.65,438.3H819.5M805.63,442.2H819.5M808.41,446.1H819.5M811.75,450H819.5M815.41,453.9H819.5" fill="none" stroke="#111" stroke-width="1.1" stroke-dasharray="2.4 1.5"/>
<path d="M817.2,411V455M813.3,414V452M809.4,420V447M805.6,428V440" fill="none" stroke="#111" stroke-width="1.1" stroke-dasharray="2.4 1.5"/>
</g>
</svg>
</body>
</html>
